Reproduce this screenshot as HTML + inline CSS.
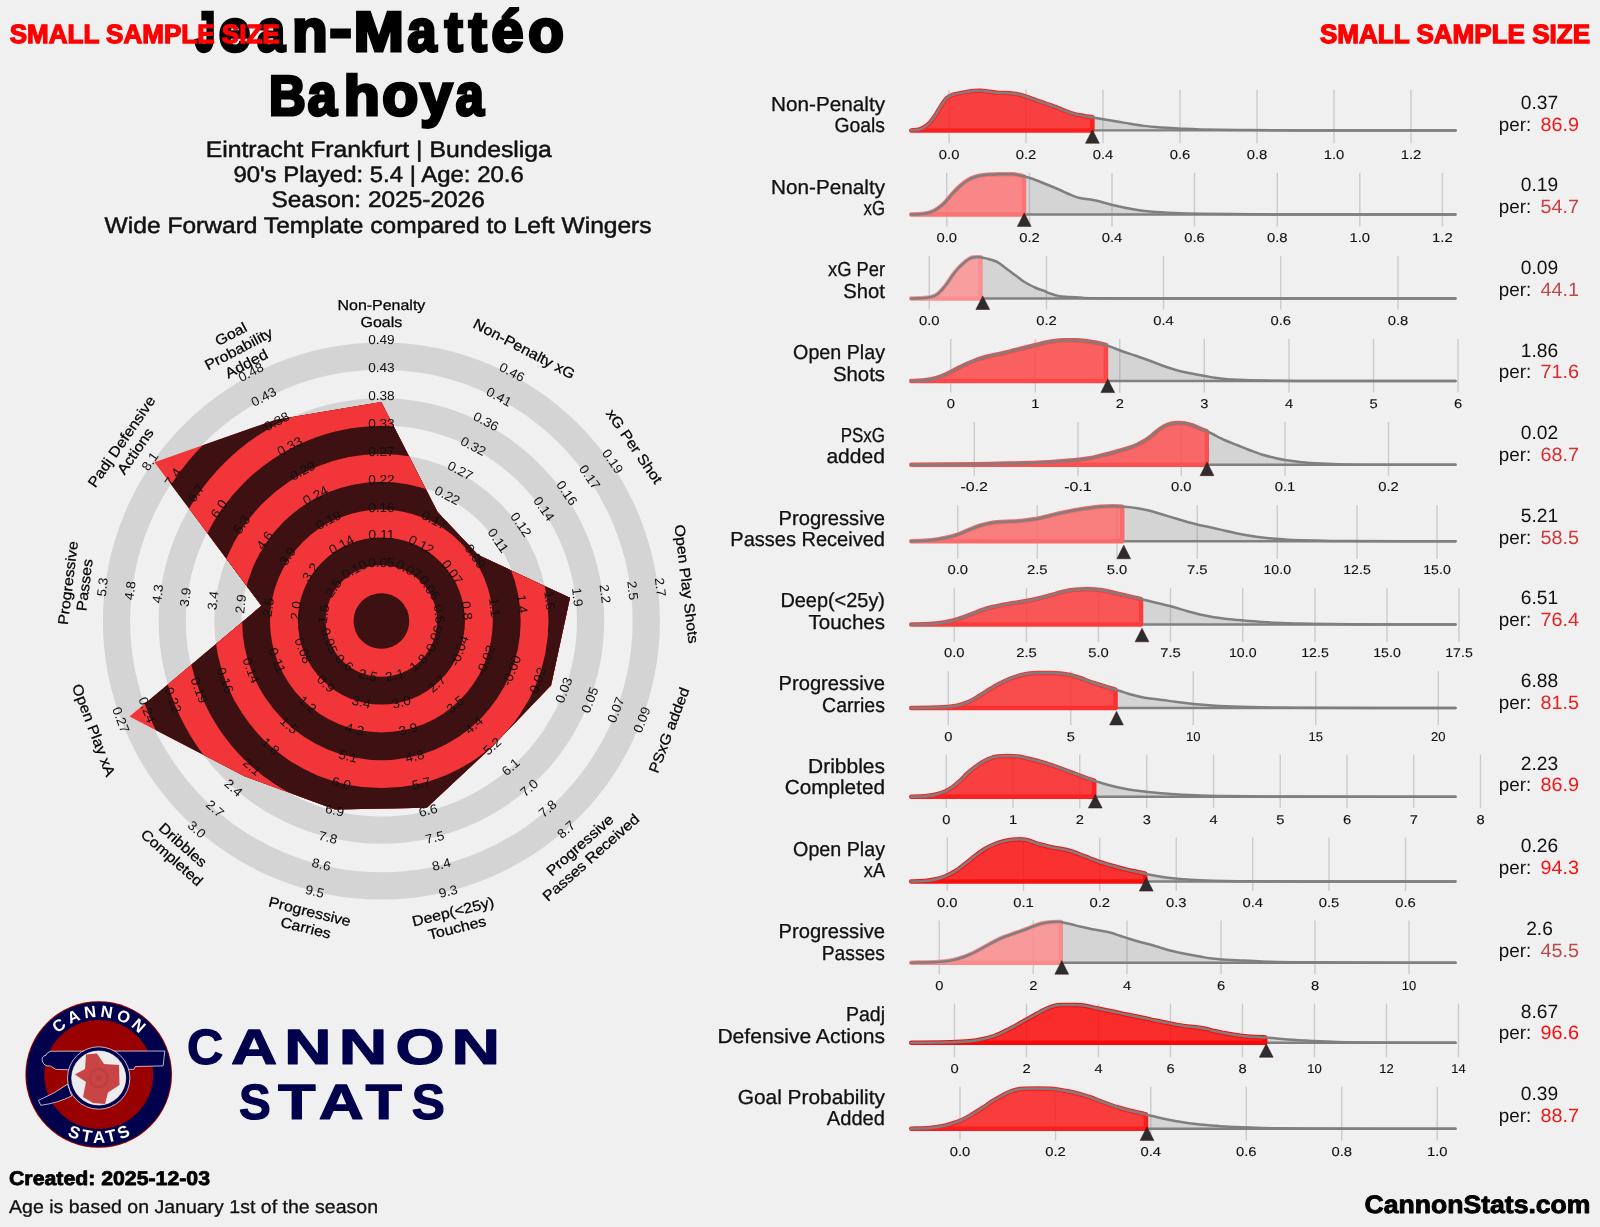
<!DOCTYPE html>
<html><head><meta charset="utf-8"><title>Radar</title><style>html,body{margin:0;padding:0;background:#f0f0f0}svg{display:block;will-change:transform}</style></head><body>
<svg width="1600" height="1227" viewBox="0 0 1600 1227" font-family="Liberation Sans, sans-serif" text-rendering="geometricPrecision">
<rect width="1600" height="1227" fill="#f0f0f0"/>
<text transform="translate(194.80,51.40) scale(0.659,1.0)" font-size="56" font-weight="bold" fill="#000" stroke="#000" stroke-width="3.2" stroke-linejoin="miter" stroke-miterlimit="2.5">J</text>
<text transform="translate(218.73,51.40) scale(1.014,1.05)" font-size="56" font-weight="bold" fill="#000" stroke="#000" stroke-width="3.2" stroke-linejoin="miter" stroke-miterlimit="2.5">e</text>
<text transform="translate(256.99,51.40) scale(0.899,1.05)" font-size="56" font-weight="bold" fill="#000" stroke="#000" stroke-width="3.2" stroke-linejoin="miter" stroke-miterlimit="2.5">a</text>
<text transform="translate(292.25,51.40) scale(1.031,1.05)" font-size="56" font-weight="bold" fill="#000" stroke="#000" stroke-width="3.2" stroke-linejoin="miter" stroke-miterlimit="2.5">n</text>
<text transform="translate(329.54,48.40) scale(1.188,1.0)" font-size="56" font-weight="bold" fill="#000" stroke="#000" stroke-width="3.2" stroke-linejoin="miter" stroke-miterlimit="2.5">-</text>
<text transform="translate(353.75,51.40) scale(1.073,1.0)" font-size="56" font-weight="bold" fill="#000" stroke="#000" stroke-width="3.2" stroke-linejoin="miter" stroke-miterlimit="2.5">M</text>
<text transform="translate(407.54,51.40) scale(0.929,1.05)" font-size="56" font-weight="bold" fill="#000" stroke="#000" stroke-width="3.2" stroke-linejoin="miter" stroke-miterlimit="2.5">a</text>
<text transform="translate(444.83,51.40) scale(0.958,1.0)" font-size="56" font-weight="bold" fill="#000" stroke="#000" stroke-width="3.2" stroke-linejoin="miter" stroke-miterlimit="2.5">t</text>
<text transform="translate(468.83,51.40) scale(0.964,1.0)" font-size="56" font-weight="bold" fill="#000" stroke="#000" stroke-width="3.2" stroke-linejoin="miter" stroke-miterlimit="2.5">t</text>
<text transform="translate(491.60,51.40) scale(1.025,1.03)" font-size="56" font-weight="bold" fill="#000" stroke="#000" stroke-width="3.2" stroke-linejoin="miter" stroke-miterlimit="2.5">é</text>
<text transform="translate(528.27,51.40) scale(1.040,1.05)" font-size="56" font-weight="bold" fill="#000" stroke="#000" stroke-width="3.2" stroke-linejoin="miter" stroke-miterlimit="2.5">o</text>
<text transform="translate(268.97,115.20) scale(0.907,1.0)" font-size="56" font-weight="bold" fill="#000" stroke="#000" stroke-width="3.2" stroke-linejoin="miter" stroke-miterlimit="2.5">B</text>
<text transform="translate(307.73,115.20) scale(0.934,1.05)" font-size="56" font-weight="bold" fill="#000" stroke="#000" stroke-width="3.2" stroke-linejoin="miter" stroke-miterlimit="2.5">a</text>
<text transform="translate(343.72,115.20) scale(1.053,1.0)" font-size="56" font-weight="bold" fill="#000" stroke="#000" stroke-width="3.2" stroke-linejoin="miter" stroke-miterlimit="2.5">h</text>
<text transform="translate(382.25,115.20) scale(1.050,1.05)" font-size="56" font-weight="bold" fill="#000" stroke="#000" stroke-width="3.2" stroke-linejoin="miter" stroke-miterlimit="2.5">o</text>
<text transform="translate(420.17,115.20) scale(1.030,1.05)" font-size="56" font-weight="bold" fill="#000" stroke="#000" stroke-width="3.2" stroke-linejoin="miter" stroke-miterlimit="2.5">y</text>
<text transform="translate(455.84,115.20) scale(0.899,1.05)" font-size="56" font-weight="bold" fill="#000" stroke="#000" stroke-width="3.2" stroke-linejoin="miter" stroke-miterlimit="2.5">a</text>
<text x="378.80" y="156.60" font-size="22.6" text-anchor="middle" font-weight="normal" fill="#111" textLength="346.2" lengthAdjust="spacingAndGlyphs" stroke="#111" stroke-width="0.5">Eintracht Frankfurt | Bundesliga</text>
<text x="378.60" y="181.90" font-size="22.6" text-anchor="middle" font-weight="normal" fill="#111" textLength="290.4" lengthAdjust="spacingAndGlyphs" stroke="#111" stroke-width="0.5">90's Played: 5.4 | Age: 20.6</text>
<text x="378.10" y="206.90" font-size="22.6" text-anchor="middle" font-weight="normal" fill="#111" textLength="213.3" lengthAdjust="spacingAndGlyphs" stroke="#111" stroke-width="0.5">Season: 2025-2026</text>
<text x="378.10" y="232.80" font-size="22.6" text-anchor="middle" font-weight="normal" fill="#111" textLength="547.0" lengthAdjust="spacingAndGlyphs" stroke="#111" stroke-width="0.5">Wide Forward Template compared to Left Wingers</text>
<text x="9.70" y="43.40" font-size="26.4" text-anchor="start" font-weight="bold" fill="#ff0000" textLength="270.0" lengthAdjust="spacingAndGlyphs" stroke="#ff0000" stroke-width="1.3" stroke-linejoin="miter">SMALL SAMPLE SIZE</text>
<text x="1590.00" y="43.40" font-size="26.4" text-anchor="end" font-weight="bold" fill="#ff0000" textLength="270.0" lengthAdjust="spacingAndGlyphs" stroke="#ff0000" stroke-width="1.3" stroke-linejoin="miter">SMALL SAMPLE SIZE</text>
<defs><clipPath id="pc"><polygon points="381.3,402.0 437.5,512.0 478.2,555.0 570.0,597.8 551.1,685.2 492.4,746.4 426.8,807.8 335.0,809.4 244.4,776.2 129.5,716.4 261.5,605.8 154.5,462.2 275.7,419.7"/></clipPath></defs>
<circle cx="381.4" cy="621.0" r="278.50" fill="#d4d4d4"/>
<circle cx="381.4" cy="621.0" r="251.25" fill="#f0f0f0"/>
<circle cx="381.4" cy="621.0" r="222.80" fill="#d4d4d4"/>
<circle cx="381.4" cy="621.0" r="195.55" fill="#f0f0f0"/>
<circle cx="381.4" cy="621.0" r="167.10" fill="#d4d4d4"/>
<circle cx="381.4" cy="621.0" r="139.85" fill="#f0f0f0"/>
<circle cx="381.4" cy="621.0" r="111.40" fill="#d4d4d4"/>
<circle cx="381.4" cy="621.0" r="84.15" fill="#f0f0f0"/>
<circle cx="381.4" cy="621.0" r="55.70" fill="#d4d4d4"/>
<circle cx="381.4" cy="621.0" r="28.45" fill="#f0f0f0"/>
<g clip-path="url(#pc)">
<circle cx="381.4" cy="621.0" r="278.50" fill="#f23538"/>
<circle cx="381.4" cy="621.0" r="250.65" fill="#3d1011"/>
<circle cx="381.4" cy="621.0" r="222.80" fill="#f23538"/>
<circle cx="381.4" cy="621.0" r="194.95" fill="#3d1011"/>
<circle cx="381.4" cy="621.0" r="167.10" fill="#f23538"/>
<circle cx="381.4" cy="621.0" r="139.25" fill="#3d1011"/>
<circle cx="381.4" cy="621.0" r="111.40" fill="#f23538"/>
<circle cx="381.4" cy="621.0" r="83.55" fill="#3d1011"/>
<circle cx="381.4" cy="621.0" r="55.70" fill="#f23538"/>
<circle cx="381.4" cy="621.0" r="27.85" fill="#3d1011"/>
</g>
<g transform="translate(381.40,564.00) rotate(0.00)">
<text x="0.00" y="3.20" font-size="13" text-anchor="middle" font-weight="normal" fill="#111" textLength="26.5" lengthAdjust="spacingAndGlyphs" >0.05</text>
</g>
<g transform="translate(381.40,536.15) rotate(0.00)">
<text x="0.00" y="3.20" font-size="13" text-anchor="middle" font-weight="normal" fill="#111" textLength="26.5" lengthAdjust="spacingAndGlyphs" >0.11</text>
</g>
<g transform="translate(381.40,508.30) rotate(0.00)">
<text x="0.00" y="3.20" font-size="13" text-anchor="middle" font-weight="normal" fill="#111" textLength="26.5" lengthAdjust="spacingAndGlyphs" >0.16</text>
</g>
<g transform="translate(381.40,480.45) rotate(0.00)">
<text x="0.00" y="3.20" font-size="13" text-anchor="middle" font-weight="normal" fill="#111" textLength="26.5" lengthAdjust="spacingAndGlyphs" >0.22</text>
</g>
<g transform="translate(381.40,452.60) rotate(0.00)">
<text x="0.00" y="3.20" font-size="13" text-anchor="middle" font-weight="normal" fill="#111" textLength="26.5" lengthAdjust="spacingAndGlyphs" >0.27</text>
</g>
<g transform="translate(381.40,424.75) rotate(0.00)">
<text x="0.00" y="3.20" font-size="13" text-anchor="middle" font-weight="normal" fill="#111" textLength="26.5" lengthAdjust="spacingAndGlyphs" >0.33</text>
</g>
<g transform="translate(381.40,396.90) rotate(0.00)">
<text x="0.00" y="3.20" font-size="13" text-anchor="middle" font-weight="normal" fill="#111" textLength="26.5" lengthAdjust="spacingAndGlyphs" >0.38</text>
</g>
<g transform="translate(381.40,369.05) rotate(0.00)">
<text x="0.00" y="3.20" font-size="13" text-anchor="middle" font-weight="normal" fill="#111" textLength="26.5" lengthAdjust="spacingAndGlyphs" >0.43</text>
</g>
<g transform="translate(381.40,341.20) rotate(0.00)">
<text x="0.00" y="3.20" font-size="13" text-anchor="middle" font-weight="normal" fill="#111" textLength="26.5" lengthAdjust="spacingAndGlyphs" >0.49</text>
</g>
<g transform="translate(407.89,570.53) rotate(27.69)">
<text x="0.00" y="3.20" font-size="13" text-anchor="middle" font-weight="normal" fill="#111" textLength="26.5" lengthAdjust="spacingAndGlyphs" >0.07</text>
</g>
<g transform="translate(420.83,545.87) rotate(27.69)">
<text x="0.00" y="3.20" font-size="13" text-anchor="middle" font-weight="normal" fill="#111" textLength="26.5" lengthAdjust="spacingAndGlyphs" >0.12</text>
</g>
<g transform="translate(433.77,521.21) rotate(27.69)">
<text x="0.00" y="3.20" font-size="13" text-anchor="middle" font-weight="normal" fill="#111" textLength="26.5" lengthAdjust="spacingAndGlyphs" >0.17</text>
</g>
<g transform="translate(446.72,496.55) rotate(27.69)">
<text x="0.00" y="3.20" font-size="13" text-anchor="middle" font-weight="normal" fill="#111" textLength="26.5" lengthAdjust="spacingAndGlyphs" >0.22</text>
</g>
<g transform="translate(459.66,471.89) rotate(27.69)">
<text x="0.00" y="3.20" font-size="13" text-anchor="middle" font-weight="normal" fill="#111" textLength="26.5" lengthAdjust="spacingAndGlyphs" >0.27</text>
</g>
<g transform="translate(472.60,447.23) rotate(27.69)">
<text x="0.00" y="3.20" font-size="13" text-anchor="middle" font-weight="normal" fill="#111" textLength="26.5" lengthAdjust="spacingAndGlyphs" >0.32</text>
</g>
<g transform="translate(485.54,422.57) rotate(27.69)">
<text x="0.00" y="3.20" font-size="13" text-anchor="middle" font-weight="normal" fill="#111" textLength="26.5" lengthAdjust="spacingAndGlyphs" >0.36</text>
</g>
<g transform="translate(498.49,397.91) rotate(27.69)">
<text x="0.00" y="3.20" font-size="13" text-anchor="middle" font-weight="normal" fill="#111" textLength="26.5" lengthAdjust="spacingAndGlyphs" >0.41</text>
</g>
<g transform="translate(511.43,373.25) rotate(27.69)">
<text x="0.00" y="3.20" font-size="13" text-anchor="middle" font-weight="normal" fill="#111" textLength="26.5" lengthAdjust="spacingAndGlyphs" >0.46</text>
</g>
<g transform="translate(428.31,588.62) rotate(55.38)">
<text x="0.00" y="3.20" font-size="13" text-anchor="middle" font-weight="normal" fill="#111" textLength="26.5" lengthAdjust="spacingAndGlyphs" >0.06</text>
</g>
<g transform="translate(451.23,572.80) rotate(55.38)">
<text x="0.00" y="3.20" font-size="13" text-anchor="middle" font-weight="normal" fill="#111" textLength="26.5" lengthAdjust="spacingAndGlyphs" >0.07</text>
</g>
<g transform="translate(474.15,556.98) rotate(55.38)">
<text x="0.00" y="3.20" font-size="13" text-anchor="middle" font-weight="normal" fill="#111" textLength="26.5" lengthAdjust="spacingAndGlyphs" >0.09</text>
</g>
<g transform="translate(497.07,541.16) rotate(55.38)">
<text x="0.00" y="3.20" font-size="13" text-anchor="middle" font-weight="normal" fill="#111" textLength="26.5" lengthAdjust="spacingAndGlyphs" >0.11</text>
</g>
<g transform="translate(519.99,525.34) rotate(55.38)">
<text x="0.00" y="3.20" font-size="13" text-anchor="middle" font-weight="normal" fill="#111" textLength="26.5" lengthAdjust="spacingAndGlyphs" >0.12</text>
</g>
<g transform="translate(542.91,509.52) rotate(55.38)">
<text x="0.00" y="3.20" font-size="13" text-anchor="middle" font-weight="normal" fill="#111" textLength="26.5" lengthAdjust="spacingAndGlyphs" >0.14</text>
</g>
<g transform="translate(565.83,493.70) rotate(55.38)">
<text x="0.00" y="3.20" font-size="13" text-anchor="middle" font-weight="normal" fill="#111" textLength="26.5" lengthAdjust="spacingAndGlyphs" >0.16</text>
</g>
<g transform="translate(588.75,477.88) rotate(55.38)">
<text x="0.00" y="3.20" font-size="13" text-anchor="middle" font-weight="normal" fill="#111" textLength="26.5" lengthAdjust="spacingAndGlyphs" >0.17</text>
</g>
<g transform="translate(611.67,462.06) rotate(55.38)">
<text x="0.00" y="3.20" font-size="13" text-anchor="middle" font-weight="normal" fill="#111" textLength="26.5" lengthAdjust="spacingAndGlyphs" >0.19</text>
</g>
<g transform="translate(437.98,614.13) rotate(83.08)">
<text x="0.00" y="3.20" font-size="13" text-anchor="middle" font-weight="normal" fill="#111" textLength="19.0" lengthAdjust="spacingAndGlyphs" >0.5</text>
</g>
<g transform="translate(465.63,610.77) rotate(83.08)">
<text x="0.00" y="3.20" font-size="13" text-anchor="middle" font-weight="normal" fill="#111" textLength="19.0" lengthAdjust="spacingAndGlyphs" >0.8</text>
</g>
<g transform="translate(493.28,607.42) rotate(83.08)">
<text x="0.00" y="3.20" font-size="13" text-anchor="middle" font-weight="normal" fill="#111" textLength="19.0" lengthAdjust="spacingAndGlyphs" >1.1</text>
</g>
<g transform="translate(520.93,604.06) rotate(83.08)">
<text x="0.00" y="3.20" font-size="13" text-anchor="middle" font-weight="normal" fill="#111" textLength="19.0" lengthAdjust="spacingAndGlyphs" >1.4</text>
</g>
<g transform="translate(548.57,600.70) rotate(83.08)">
<text x="0.00" y="3.20" font-size="13" text-anchor="middle" font-weight="normal" fill="#111" textLength="19.0" lengthAdjust="spacingAndGlyphs" >1.6</text>
</g>
<g transform="translate(576.22,597.34) rotate(83.08)">
<text x="0.00" y="3.20" font-size="13" text-anchor="middle" font-weight="normal" fill="#111" textLength="19.0" lengthAdjust="spacingAndGlyphs" >1.9</text>
</g>
<g transform="translate(603.87,593.99) rotate(83.08)">
<text x="0.00" y="3.20" font-size="13" text-anchor="middle" font-weight="normal" fill="#111" textLength="19.0" lengthAdjust="spacingAndGlyphs" >2.2</text>
</g>
<g transform="translate(631.51,590.63) rotate(83.08)">
<text x="0.00" y="3.20" font-size="13" text-anchor="middle" font-weight="normal" fill="#111" textLength="19.0" lengthAdjust="spacingAndGlyphs" >2.5</text>
</g>
<g transform="translate(659.16,587.27) rotate(83.08)">
<text x="0.00" y="3.20" font-size="13" text-anchor="middle" font-weight="normal" fill="#111" textLength="19.0" lengthAdjust="spacingAndGlyphs" >2.7</text>
</g>
<g transform="translate(434.70,641.21) rotate(-69.23)">
<text x="0.00" y="3.20" font-size="13" text-anchor="middle" font-weight="normal" fill="#111" textLength="31.5" lengthAdjust="spacingAndGlyphs" >-0.06</text>
</g>
<g transform="translate(460.74,651.09) rotate(-69.23)">
<text x="0.00" y="3.20" font-size="13" text-anchor="middle" font-weight="normal" fill="#111" textLength="31.5" lengthAdjust="spacingAndGlyphs" >-0.04</text>
</g>
<g transform="translate(486.78,660.96) rotate(-69.23)">
<text x="0.00" y="3.20" font-size="13" text-anchor="middle" font-weight="normal" fill="#111" textLength="31.5" lengthAdjust="spacingAndGlyphs" >-0.02</text>
</g>
<g transform="translate(512.82,670.84) rotate(-69.23)">
<text x="0.00" y="3.20" font-size="13" text-anchor="middle" font-weight="normal" fill="#111" textLength="31.5" lengthAdjust="spacingAndGlyphs" >-0.00</text>
</g>
<g transform="translate(538.86,680.72) rotate(-69.23)">
<text x="0.00" y="3.20" font-size="13" text-anchor="middle" font-weight="normal" fill="#111" textLength="26.5" lengthAdjust="spacingAndGlyphs" >0.02</text>
</g>
<g transform="translate(564.90,690.59) rotate(-69.23)">
<text x="0.00" y="3.20" font-size="13" text-anchor="middle" font-weight="normal" fill="#111" textLength="26.5" lengthAdjust="spacingAndGlyphs" >0.03</text>
</g>
<g transform="translate(590.94,700.47) rotate(-69.23)">
<text x="0.00" y="3.20" font-size="13" text-anchor="middle" font-weight="normal" fill="#111" textLength="26.5" lengthAdjust="spacingAndGlyphs" >0.05</text>
</g>
<g transform="translate(616.98,710.34) rotate(-69.23)">
<text x="0.00" y="3.20" font-size="13" text-anchor="middle" font-weight="normal" fill="#111" textLength="26.5" lengthAdjust="spacingAndGlyphs" >0.07</text>
</g>
<g transform="translate(643.02,720.22) rotate(-69.23)">
<text x="0.00" y="3.20" font-size="13" text-anchor="middle" font-weight="normal" fill="#111" textLength="26.5" lengthAdjust="spacingAndGlyphs" >0.09</text>
</g>
<g transform="translate(419.20,663.67) rotate(-41.54)">
<text x="0.00" y="3.20" font-size="13" text-anchor="middle" font-weight="normal" fill="#111" textLength="19.0" lengthAdjust="spacingAndGlyphs" >1.8</text>
</g>
<g transform="translate(437.67,684.51) rotate(-41.54)">
<text x="0.00" y="3.20" font-size="13" text-anchor="middle" font-weight="normal" fill="#111" textLength="19.0" lengthAdjust="spacingAndGlyphs" >2.7</text>
</g>
<g transform="translate(456.13,705.36) rotate(-41.54)">
<text x="0.00" y="3.20" font-size="13" text-anchor="middle" font-weight="normal" fill="#111" textLength="19.0" lengthAdjust="spacingAndGlyphs" >3.5</text>
</g>
<g transform="translate(474.60,726.20) rotate(-41.54)">
<text x="0.00" y="3.20" font-size="13" text-anchor="middle" font-weight="normal" fill="#111" textLength="19.0" lengthAdjust="spacingAndGlyphs" >4.4</text>
</g>
<g transform="translate(493.07,747.05) rotate(-41.54)">
<text x="0.00" y="3.20" font-size="13" text-anchor="middle" font-weight="normal" fill="#111" textLength="19.0" lengthAdjust="spacingAndGlyphs" >5.2</text>
</g>
<g transform="translate(511.54,767.90) rotate(-41.54)">
<text x="0.00" y="3.20" font-size="13" text-anchor="middle" font-weight="normal" fill="#111" textLength="19.0" lengthAdjust="spacingAndGlyphs" >6.1</text>
</g>
<g transform="translate(530.01,788.74) rotate(-41.54)">
<text x="0.00" y="3.20" font-size="13" text-anchor="middle" font-weight="normal" fill="#111" textLength="19.0" lengthAdjust="spacingAndGlyphs" >7.0</text>
</g>
<g transform="translate(548.47,809.59) rotate(-41.54)">
<text x="0.00" y="3.20" font-size="13" text-anchor="middle" font-weight="normal" fill="#111" textLength="19.0" lengthAdjust="spacingAndGlyphs" >7.8</text>
</g>
<g transform="translate(566.94,830.43) rotate(-41.54)">
<text x="0.00" y="3.20" font-size="13" text-anchor="middle" font-weight="normal" fill="#111" textLength="19.0" lengthAdjust="spacingAndGlyphs" >8.7</text>
</g>
<g transform="translate(395.04,676.34) rotate(-13.85)">
<text x="0.00" y="3.20" font-size="13" text-anchor="middle" font-weight="normal" fill="#111" textLength="19.0" lengthAdjust="spacingAndGlyphs" >2.1</text>
</g>
<g transform="translate(401.71,703.38) rotate(-13.85)">
<text x="0.00" y="3.20" font-size="13" text-anchor="middle" font-weight="normal" fill="#111" textLength="19.0" lengthAdjust="spacingAndGlyphs" >3.0</text>
</g>
<g transform="translate(408.37,730.43) rotate(-13.85)">
<text x="0.00" y="3.20" font-size="13" text-anchor="middle" font-weight="normal" fill="#111" textLength="19.0" lengthAdjust="spacingAndGlyphs" >3.9</text>
</g>
<g transform="translate(415.04,757.47) rotate(-13.85)">
<text x="0.00" y="3.20" font-size="13" text-anchor="middle" font-weight="normal" fill="#111" textLength="19.0" lengthAdjust="spacingAndGlyphs" >4.8</text>
</g>
<g transform="translate(421.70,784.51) rotate(-13.85)">
<text x="0.00" y="3.20" font-size="13" text-anchor="middle" font-weight="normal" fill="#111" textLength="19.0" lengthAdjust="spacingAndGlyphs" >5.7</text>
</g>
<g transform="translate(428.37,811.55) rotate(-13.85)">
<text x="0.00" y="3.20" font-size="13" text-anchor="middle" font-weight="normal" fill="#111" textLength="19.0" lengthAdjust="spacingAndGlyphs" >6.6</text>
</g>
<g transform="translate(435.03,838.59) rotate(-13.85)">
<text x="0.00" y="3.20" font-size="13" text-anchor="middle" font-weight="normal" fill="#111" textLength="19.0" lengthAdjust="spacingAndGlyphs" >7.5</text>
</g>
<g transform="translate(441.70,865.63) rotate(-13.85)">
<text x="0.00" y="3.20" font-size="13" text-anchor="middle" font-weight="normal" fill="#111" textLength="19.0" lengthAdjust="spacingAndGlyphs" >8.4</text>
</g>
<g transform="translate(448.36,892.67) rotate(-13.85)">
<text x="0.00" y="3.20" font-size="13" text-anchor="middle" font-weight="normal" fill="#111" textLength="19.0" lengthAdjust="spacingAndGlyphs" >9.3</text>
</g>
<g transform="translate(367.76,676.34) rotate(13.85)">
<text x="0.00" y="3.20" font-size="13" text-anchor="middle" font-weight="normal" fill="#111" textLength="19.0" lengthAdjust="spacingAndGlyphs" >2.5</text>
</g>
<g transform="translate(361.09,703.38) rotate(13.85)">
<text x="0.00" y="3.20" font-size="13" text-anchor="middle" font-weight="normal" fill="#111" textLength="19.0" lengthAdjust="spacingAndGlyphs" >3.4</text>
</g>
<g transform="translate(354.43,730.43) rotate(13.85)">
<text x="0.00" y="3.20" font-size="13" text-anchor="middle" font-weight="normal" fill="#111" textLength="19.0" lengthAdjust="spacingAndGlyphs" >4.3</text>
</g>
<g transform="translate(347.76,757.47) rotate(13.85)">
<text x="0.00" y="3.20" font-size="13" text-anchor="middle" font-weight="normal" fill="#111" textLength="19.0" lengthAdjust="spacingAndGlyphs" >5.1</text>
</g>
<g transform="translate(341.10,784.51) rotate(13.85)">
<text x="0.00" y="3.20" font-size="13" text-anchor="middle" font-weight="normal" fill="#111" textLength="19.0" lengthAdjust="spacingAndGlyphs" >6.0</text>
</g>
<g transform="translate(334.43,811.55) rotate(13.85)">
<text x="0.00" y="3.20" font-size="13" text-anchor="middle" font-weight="normal" fill="#111" textLength="19.0" lengthAdjust="spacingAndGlyphs" >6.9</text>
</g>
<g transform="translate(327.77,838.59) rotate(13.85)">
<text x="0.00" y="3.20" font-size="13" text-anchor="middle" font-weight="normal" fill="#111" textLength="19.0" lengthAdjust="spacingAndGlyphs" >7.8</text>
</g>
<g transform="translate(321.10,865.63) rotate(13.85)">
<text x="0.00" y="3.20" font-size="13" text-anchor="middle" font-weight="normal" fill="#111" textLength="19.0" lengthAdjust="spacingAndGlyphs" >8.6</text>
</g>
<g transform="translate(314.44,892.67) rotate(13.85)">
<text x="0.00" y="3.20" font-size="13" text-anchor="middle" font-weight="normal" fill="#111" textLength="19.0" lengthAdjust="spacingAndGlyphs" >9.5</text>
</g>
<g transform="translate(343.60,663.67) rotate(41.54)">
<text x="0.00" y="3.20" font-size="13" text-anchor="middle" font-weight="normal" fill="#111" textLength="19.0" lengthAdjust="spacingAndGlyphs" >0.6</text>
</g>
<g transform="translate(325.13,684.51) rotate(41.54)">
<text x="0.00" y="3.20" font-size="13" text-anchor="middle" font-weight="normal" fill="#111" textLength="19.0" lengthAdjust="spacingAndGlyphs" >0.9</text>
</g>
<g transform="translate(306.67,705.36) rotate(41.54)">
<text x="0.00" y="3.20" font-size="13" text-anchor="middle" font-weight="normal" fill="#111" textLength="19.0" lengthAdjust="spacingAndGlyphs" >1.2</text>
</g>
<g transform="translate(288.20,726.20) rotate(41.54)">
<text x="0.00" y="3.20" font-size="13" text-anchor="middle" font-weight="normal" fill="#111" textLength="19.0" lengthAdjust="spacingAndGlyphs" >1.5</text>
</g>
<g transform="translate(269.73,747.05) rotate(41.54)">
<text x="0.00" y="3.20" font-size="13" text-anchor="middle" font-weight="normal" fill="#111" textLength="19.0" lengthAdjust="spacingAndGlyphs" >1.8</text>
</g>
<g transform="translate(251.26,767.90) rotate(41.54)">
<text x="0.00" y="3.20" font-size="13" text-anchor="middle" font-weight="normal" fill="#111" textLength="19.0" lengthAdjust="spacingAndGlyphs" >2.1</text>
</g>
<g transform="translate(232.79,788.74) rotate(41.54)">
<text x="0.00" y="3.20" font-size="13" text-anchor="middle" font-weight="normal" fill="#111" textLength="19.0" lengthAdjust="spacingAndGlyphs" >2.4</text>
</g>
<g transform="translate(214.33,809.59) rotate(41.54)">
<text x="0.00" y="3.20" font-size="13" text-anchor="middle" font-weight="normal" fill="#111" textLength="19.0" lengthAdjust="spacingAndGlyphs" >2.7</text>
</g>
<g transform="translate(195.86,830.43) rotate(41.54)">
<text x="0.00" y="3.20" font-size="13" text-anchor="middle" font-weight="normal" fill="#111" textLength="19.0" lengthAdjust="spacingAndGlyphs" >3.0</text>
</g>
<g transform="translate(328.10,641.21) rotate(69.23)">
<text x="0.00" y="3.20" font-size="13" text-anchor="middle" font-weight="normal" fill="#111" textLength="26.5" lengthAdjust="spacingAndGlyphs" >0.05</text>
</g>
<g transform="translate(302.06,651.09) rotate(69.23)">
<text x="0.00" y="3.20" font-size="13" text-anchor="middle" font-weight="normal" fill="#111" textLength="26.5" lengthAdjust="spacingAndGlyphs" >0.08</text>
</g>
<g transform="translate(276.02,660.96) rotate(69.23)">
<text x="0.00" y="3.20" font-size="13" text-anchor="middle" font-weight="normal" fill="#111" textLength="26.5" lengthAdjust="spacingAndGlyphs" >0.11</text>
</g>
<g transform="translate(249.98,670.84) rotate(69.23)">
<text x="0.00" y="3.20" font-size="13" text-anchor="middle" font-weight="normal" fill="#111" textLength="26.5" lengthAdjust="spacingAndGlyphs" >0.14</text>
</g>
<g transform="translate(223.94,680.72) rotate(69.23)">
<text x="0.00" y="3.20" font-size="13" text-anchor="middle" font-weight="normal" fill="#111" textLength="26.5" lengthAdjust="spacingAndGlyphs" >0.16</text>
</g>
<g transform="translate(197.90,690.59) rotate(69.23)">
<text x="0.00" y="3.20" font-size="13" text-anchor="middle" font-weight="normal" fill="#111" textLength="26.5" lengthAdjust="spacingAndGlyphs" >0.19</text>
</g>
<g transform="translate(171.86,700.47) rotate(69.23)">
<text x="0.00" y="3.20" font-size="13" text-anchor="middle" font-weight="normal" fill="#111" textLength="26.5" lengthAdjust="spacingAndGlyphs" >0.22</text>
</g>
<g transform="translate(145.82,710.34) rotate(69.23)">
<text x="0.00" y="3.20" font-size="13" text-anchor="middle" font-weight="normal" fill="#111" textLength="26.5" lengthAdjust="spacingAndGlyphs" >0.24</text>
</g>
<g transform="translate(119.78,720.22) rotate(69.23)">
<text x="0.00" y="3.20" font-size="13" text-anchor="middle" font-weight="normal" fill="#111" textLength="26.5" lengthAdjust="spacingAndGlyphs" >0.27</text>
</g>
<g transform="translate(324.82,614.13) rotate(-83.08)">
<text x="0.00" y="3.20" font-size="13" text-anchor="middle" font-weight="normal" fill="#111" textLength="19.0" lengthAdjust="spacingAndGlyphs" >1.5</text>
</g>
<g transform="translate(297.17,610.77) rotate(-83.08)">
<text x="0.00" y="3.20" font-size="13" text-anchor="middle" font-weight="normal" fill="#111" textLength="19.0" lengthAdjust="spacingAndGlyphs" >2.0</text>
</g>
<g transform="translate(269.52,607.42) rotate(-83.08)">
<text x="0.00" y="3.20" font-size="13" text-anchor="middle" font-weight="normal" fill="#111" textLength="19.0" lengthAdjust="spacingAndGlyphs" >2.5</text>
</g>
<g transform="translate(241.87,604.06) rotate(-83.08)">
<text x="0.00" y="3.20" font-size="13" text-anchor="middle" font-weight="normal" fill="#111" textLength="19.0" lengthAdjust="spacingAndGlyphs" >2.9</text>
</g>
<g transform="translate(214.23,600.70) rotate(-83.08)">
<text x="0.00" y="3.20" font-size="13" text-anchor="middle" font-weight="normal" fill="#111" textLength="19.0" lengthAdjust="spacingAndGlyphs" >3.4</text>
</g>
<g transform="translate(186.58,597.34) rotate(-83.08)">
<text x="0.00" y="3.20" font-size="13" text-anchor="middle" font-weight="normal" fill="#111" textLength="19.0" lengthAdjust="spacingAndGlyphs" >3.9</text>
</g>
<g transform="translate(158.93,593.99) rotate(-83.08)">
<text x="0.00" y="3.20" font-size="13" text-anchor="middle" font-weight="normal" fill="#111" textLength="19.0" lengthAdjust="spacingAndGlyphs" >4.3</text>
</g>
<g transform="translate(131.29,590.63) rotate(-83.08)">
<text x="0.00" y="3.20" font-size="13" text-anchor="middle" font-weight="normal" fill="#111" textLength="19.0" lengthAdjust="spacingAndGlyphs" >4.8</text>
</g>
<g transform="translate(103.64,587.27) rotate(-83.08)">
<text x="0.00" y="3.20" font-size="13" text-anchor="middle" font-weight="normal" fill="#111" textLength="19.0" lengthAdjust="spacingAndGlyphs" >5.3</text>
</g>
<g transform="translate(334.49,588.62) rotate(-55.38)">
<text x="0.00" y="3.20" font-size="13" text-anchor="middle" font-weight="normal" fill="#111" textLength="19.0" lengthAdjust="spacingAndGlyphs" >2.5</text>
</g>
<g transform="translate(311.57,572.80) rotate(-55.38)">
<text x="0.00" y="3.20" font-size="13" text-anchor="middle" font-weight="normal" fill="#111" textLength="19.0" lengthAdjust="spacingAndGlyphs" >3.2</text>
</g>
<g transform="translate(288.65,556.98) rotate(-55.38)">
<text x="0.00" y="3.20" font-size="13" text-anchor="middle" font-weight="normal" fill="#111" textLength="19.0" lengthAdjust="spacingAndGlyphs" >3.9</text>
</g>
<g transform="translate(265.73,541.16) rotate(-55.38)">
<text x="0.00" y="3.20" font-size="13" text-anchor="middle" font-weight="normal" fill="#111" textLength="19.0" lengthAdjust="spacingAndGlyphs" >4.6</text>
</g>
<g transform="translate(242.81,525.34) rotate(-55.38)">
<text x="0.00" y="3.20" font-size="13" text-anchor="middle" font-weight="normal" fill="#111" textLength="19.0" lengthAdjust="spacingAndGlyphs" >5.3</text>
</g>
<g transform="translate(219.89,509.52) rotate(-55.38)">
<text x="0.00" y="3.20" font-size="13" text-anchor="middle" font-weight="normal" fill="#111" textLength="19.0" lengthAdjust="spacingAndGlyphs" >6.0</text>
</g>
<g transform="translate(196.97,493.70) rotate(-55.38)">
<text x="0.00" y="3.20" font-size="13" text-anchor="middle" font-weight="normal" fill="#111" textLength="19.0" lengthAdjust="spacingAndGlyphs" >6.7</text>
</g>
<g transform="translate(174.05,477.88) rotate(-55.38)">
<text x="0.00" y="3.20" font-size="13" text-anchor="middle" font-weight="normal" fill="#111" textLength="19.0" lengthAdjust="spacingAndGlyphs" >7.4</text>
</g>
<g transform="translate(151.13,462.06) rotate(-55.38)">
<text x="0.00" y="3.20" font-size="13" text-anchor="middle" font-weight="normal" fill="#111" textLength="19.0" lengthAdjust="spacingAndGlyphs" >8.1</text>
</g>
<g transform="translate(354.91,570.53) rotate(-27.69)">
<text x="0.00" y="3.20" font-size="13" text-anchor="middle" font-weight="normal" fill="#111" textLength="26.5" lengthAdjust="spacingAndGlyphs" >0.10</text>
</g>
<g transform="translate(341.97,545.87) rotate(-27.69)">
<text x="0.00" y="3.20" font-size="13" text-anchor="middle" font-weight="normal" fill="#111" textLength="26.5" lengthAdjust="spacingAndGlyphs" >0.14</text>
</g>
<g transform="translate(329.03,521.21) rotate(-27.69)">
<text x="0.00" y="3.20" font-size="13" text-anchor="middle" font-weight="normal" fill="#111" textLength="26.5" lengthAdjust="spacingAndGlyphs" >0.19</text>
</g>
<g transform="translate(316.08,496.55) rotate(-27.69)">
<text x="0.00" y="3.20" font-size="13" text-anchor="middle" font-weight="normal" fill="#111" textLength="26.5" lengthAdjust="spacingAndGlyphs" >0.24</text>
</g>
<g transform="translate(303.14,471.89) rotate(-27.69)">
<text x="0.00" y="3.20" font-size="13" text-anchor="middle" font-weight="normal" fill="#111" textLength="26.5" lengthAdjust="spacingAndGlyphs" >0.29</text>
</g>
<g transform="translate(290.20,447.23) rotate(-27.69)">
<text x="0.00" y="3.20" font-size="13" text-anchor="middle" font-weight="normal" fill="#111" textLength="26.5" lengthAdjust="spacingAndGlyphs" >0.33</text>
</g>
<g transform="translate(277.26,422.57) rotate(-27.69)">
<text x="0.00" y="3.20" font-size="13" text-anchor="middle" font-weight="normal" fill="#111" textLength="26.5" lengthAdjust="spacingAndGlyphs" >0.38</text>
</g>
<g transform="translate(264.31,397.91) rotate(-27.69)">
<text x="0.00" y="3.20" font-size="13" text-anchor="middle" font-weight="normal" fill="#111" textLength="26.5" lengthAdjust="spacingAndGlyphs" >0.43</text>
</g>
<g transform="translate(251.37,373.25) rotate(-27.69)">
<text x="0.00" y="3.20" font-size="13" text-anchor="middle" font-weight="normal" fill="#111" textLength="26.5" lengthAdjust="spacingAndGlyphs" >0.48</text>
</g>
<g transform="translate(381.40,313.50) rotate(0.00)">
<text x="0.00" y="-3.25" font-size="14.5" text-anchor="middle" font-weight="normal" fill="#000" textLength="87.8" lengthAdjust="spacingAndGlyphs" stroke="#000" stroke-width="0.25">Non-Penalty</text>
<text x="0.00" y="13.45" font-size="14.5" text-anchor="middle" font-weight="normal" fill="#000" textLength="41.7" lengthAdjust="spacingAndGlyphs" stroke="#000" stroke-width="0.25">Goals</text>
</g>
<g transform="translate(524.30,348.72) rotate(27.69)">
<text x="0.00" y="5.10" font-size="14.5" text-anchor="middle" font-weight="normal" fill="#000" textLength="112.6" lengthAdjust="spacingAndGlyphs" stroke="#000" stroke-width="0.25">Non-Penalty xG</text>
</g>
<g transform="translate(634.47,446.32) rotate(55.38)">
<text x="0.00" y="5.10" font-size="14.5" text-anchor="middle" font-weight="normal" fill="#000" textLength="86.9" lengthAdjust="spacingAndGlyphs" stroke="#000" stroke-width="0.25">xG Per Shot</text>
</g>
<g transform="translate(686.66,583.93) rotate(83.08)">
<text x="0.00" y="5.10" font-size="14.5" text-anchor="middle" font-weight="normal" fill="#000" textLength="119.7" lengthAdjust="spacingAndGlyphs" stroke="#000" stroke-width="0.25">Open Play Shots</text>
</g>
<g transform="translate(668.92,730.04) rotate(-69.23)">
<text x="0.00" y="5.10" font-size="14.5" text-anchor="middle" font-weight="normal" fill="#000" textLength="90.4" lengthAdjust="spacingAndGlyphs" stroke="#000" stroke-width="0.25">PSxG added</text>
</g>
<g transform="translate(585.31,851.17) rotate(-41.54)">
<text x="0.00" y="-3.25" font-size="14.5" text-anchor="middle" font-weight="normal" fill="#000" textLength="84.2" lengthAdjust="spacingAndGlyphs" stroke="#000" stroke-width="0.25">Progressive</text>
<text x="0.00" y="13.45" font-size="14.5" text-anchor="middle" font-weight="normal" fill="#000" textLength="123.2" lengthAdjust="spacingAndGlyphs" stroke="#000" stroke-width="0.25">Passes Received</text>
</g>
<g transform="translate(454.99,919.56) rotate(-13.85)">
<text x="0.00" y="-3.25" font-size="14.5" text-anchor="middle" font-weight="normal" fill="#000" textLength="83.8" lengthAdjust="spacingAndGlyphs" stroke="#000" stroke-width="0.25">Deep(&lt;25y)</text>
<text x="0.00" y="13.45" font-size="14.5" text-anchor="middle" font-weight="normal" fill="#000" textLength="59.4" lengthAdjust="spacingAndGlyphs" stroke="#000" stroke-width="0.25">Touches</text>
</g>
<g transform="translate(307.81,919.56) rotate(13.85)">
<text x="0.00" y="-3.25" font-size="14.5" text-anchor="middle" font-weight="normal" fill="#000" textLength="84.2" lengthAdjust="spacingAndGlyphs" stroke="#000" stroke-width="0.25">Progressive</text>
<text x="0.00" y="13.45" font-size="14.5" text-anchor="middle" font-weight="normal" fill="#000" textLength="51.4" lengthAdjust="spacingAndGlyphs" stroke="#000" stroke-width="0.25">Carries</text>
</g>
<g transform="translate(177.49,851.17) rotate(41.54)">
<text x="0.00" y="-3.25" font-size="14.5" text-anchor="middle" font-weight="normal" fill="#000" textLength="58.5" lengthAdjust="spacingAndGlyphs" stroke="#000" stroke-width="0.25">Dribbles</text>
<text x="0.00" y="13.45" font-size="14.5" text-anchor="middle" font-weight="normal" fill="#000" textLength="77.1" lengthAdjust="spacingAndGlyphs" stroke="#000" stroke-width="0.25">Completed</text>
</g>
<g transform="translate(93.88,730.04) rotate(69.23)">
<text x="0.00" y="5.10" font-size="14.5" text-anchor="middle" font-weight="normal" fill="#000" textLength="97.5" lengthAdjust="spacingAndGlyphs" stroke="#000" stroke-width="0.25">Open Play xA</text>
</g>
<g transform="translate(76.14,583.93) rotate(-83.08)">
<text x="0.00" y="-3.25" font-size="14.5" text-anchor="middle" font-weight="normal" fill="#000" textLength="84.2" lengthAdjust="spacingAndGlyphs" stroke="#000" stroke-width="0.25">Progressive</text>
<text x="0.00" y="13.45" font-size="14.5" text-anchor="middle" font-weight="normal" fill="#000" textLength="52.3" lengthAdjust="spacingAndGlyphs" stroke="#000" stroke-width="0.25">Passes</text>
</g>
<g transform="translate(128.33,446.32) rotate(-55.38)">
<text x="0.00" y="-3.25" font-size="14.5" text-anchor="middle" font-weight="normal" fill="#000" textLength="107.3" lengthAdjust="spacingAndGlyphs" stroke="#000" stroke-width="0.25">Padj Defensive</text>
<text x="0.00" y="13.45" font-size="14.5" text-anchor="middle" font-weight="normal" fill="#000" textLength="52.3" lengthAdjust="spacingAndGlyphs" stroke="#000" stroke-width="0.25">Actions</text>
</g>
<g transform="translate(238.50,348.72) rotate(-27.69)">
<text x="0.00" y="-11.60" font-size="14.5" text-anchor="middle" font-weight="normal" fill="#000" textLength="33.7" lengthAdjust="spacingAndGlyphs" stroke="#000" stroke-width="0.25">Goal</text>
<text x="0.00" y="5.10" font-size="14.5" text-anchor="middle" font-weight="normal" fill="#000" textLength="74.5" lengthAdjust="spacingAndGlyphs" stroke="#000" stroke-width="0.25">Probability</text>
<text x="0.00" y="21.80" font-size="14.5" text-anchor="middle" font-weight="normal" fill="#000" textLength="46.1" lengthAdjust="spacingAndGlyphs" stroke="#000" stroke-width="0.25">Added</text>
</g>
<circle cx="98.7" cy="1074.5" r="73.3" fill="#8b0000"/>
<circle cx="98.7" cy="1074.5" r="72.2" fill="#00004d"/>
<circle cx="98.7" cy="1074.5" r="54.5" fill="#990000"/>
<path d="M50.9,1051.2 L164.8,1051 L163.1,1065.9 L135.4,1066.5 L134,1069.3 L68,1069.8 L55.7,1069.3 L50.2,1065.9 Q44,1066.8 42.3,1061 Q41.3,1056 46,1055.2 Q47,1052 50.9,1051.2 Z" fill="#00004d" stroke="#fff" stroke-width="0.7"/>
<path d="M67.5,1084.2 Q54,1094 38.4,1100.4 L40.8,1105.3 Q58,1103 71.7,1096 z" fill="#00004d" stroke="#fff" stroke-width="0.7"/>
<circle cx="98.7" cy="1078" r="31.2" fill="#00004d" stroke="#fff" stroke-width="0.7"/>
<circle cx="98.7" cy="1078" r="27" fill="#ececec" stroke="#fff" stroke-width="0.7"/>
<polygon points="86,1054.5 97,1053.5 104,1064 119,1065 119.5,1085 108,1092.5 105,1104 93,1103 83,1097 86,1082 75,1074.5 85,1069" fill="#c94545"/>
<circle cx="98.7" cy="1078" r="9" fill="none" stroke="#bf3f3f" stroke-width="2.5"/>
<circle cx="98.7" cy="1078" r="3" fill="#bf3f3f"/>
<defs><path id="arcT" d="M41.2,1074.5 A57.5,57.5 0 0 1 156.2,1074.5"/><path id="arcB" d="M30.200000000000003,1074.5 A68.5,68.5 0 0 0 167.2,1074.5"/></defs>
<text font-size="16.5" font-weight="bold" fill="#fff" letter-spacing="3.6"><textPath href="#arcT" startOffset="51%" text-anchor="middle">CANNON</textPath></text>
<text font-size="17" font-weight="bold" fill="#fff" letter-spacing="3.3"><textPath href="#arcB" startOffset="51%" text-anchor="middle">STATS</textPath></text>
<text transform="translate(187.07,1064) scale(1.015,1)" font-size="49.5" font-weight="bold" fill="#00004d" stroke="#00004d" stroke-width="1.2" stroke-linejoin="round">C</text>
<text transform="translate(231.12,1064) scale(1.293,1)" font-size="49.5" font-weight="bold" fill="#00004d" stroke="#00004d" stroke-width="1.2" stroke-linejoin="round">A</text>
<text transform="translate(284.25,1064) scale(1.320,1)" font-size="49.5" font-weight="bold" fill="#00004d" stroke="#00004d" stroke-width="1.2" stroke-linejoin="round">N</text>
<text transform="translate(338.82,1064) scale(1.357,1)" font-size="49.5" font-weight="bold" fill="#00004d" stroke="#00004d" stroke-width="1.2" stroke-linejoin="round">N</text>
<text transform="translate(395.45,1064) scale(1.276,1)" font-size="49.5" font-weight="bold" fill="#00004d" stroke="#00004d" stroke-width="1.2" stroke-linejoin="round">O</text>
<text transform="translate(451.52,1064) scale(1.357,1)" font-size="49.5" font-weight="bold" fill="#00004d" stroke="#00004d" stroke-width="1.2" stroke-linejoin="round">N</text>
<text transform="translate(239.06,1119) scale(0.963,1)" font-size="49.5" font-weight="bold" fill="#00004d" stroke="#00004d" stroke-width="1.2" stroke-linejoin="round">S</text>
<text transform="translate(278.05,1119) scale(1.244,1)" font-size="49.5" font-weight="bold" fill="#00004d" stroke="#00004d" stroke-width="1.2" stroke-linejoin="round">T</text>
<text transform="translate(318.77,1119) scale(1.257,1)" font-size="49.5" font-weight="bold" fill="#00004d" stroke="#00004d" stroke-width="1.2" stroke-linejoin="round">A</text>
<text transform="translate(365.58,1119) scale(1.206,1)" font-size="49.5" font-weight="bold" fill="#00004d" stroke="#00004d" stroke-width="1.2" stroke-linejoin="round">T</text>
<text transform="translate(411.79,1119) scale(1.003,1)" font-size="49.5" font-weight="bold" fill="#00004d" stroke="#00004d" stroke-width="1.2" stroke-linejoin="round">S</text>
<text x="9.00" y="1184.50" font-size="19.8" text-anchor="start" font-weight="bold" fill="#000" textLength="201.0" lengthAdjust="spacingAndGlyphs" stroke="#000" stroke-width="0.8" stroke-linejoin="round">Created: 2025-12-03</text>
<text x="9.00" y="1213.00" font-size="18.6" text-anchor="start" font-weight="normal" fill="#111" textLength="369.0" lengthAdjust="spacingAndGlyphs" stroke="#111" stroke-width="0.3">Age is based on January 1st of the season</text>
<text x="1590.50" y="1213.00" font-size="25" text-anchor="end" font-weight="bold" fill="#000" textLength="226.0" lengthAdjust="spacingAndGlyphs" stroke="#000" stroke-width="0.9" stroke-linejoin="round">CannonStats.com</text>
<line x1="949.10" y1="89.70" x2="949.10" y2="143.30" stroke="#cbcbcb" stroke-width="1.4"/>
<text x="949.10" y="158.90" font-size="12.8" text-anchor="middle" font-weight="normal" fill="#111" textLength="20.6" lengthAdjust="spacingAndGlyphs" stroke="#111" stroke-width="0.12">0.0</text>
<line x1="1026.00" y1="89.70" x2="1026.00" y2="143.30" stroke="#cbcbcb" stroke-width="1.4"/>
<text x="1026.00" y="158.90" font-size="12.8" text-anchor="middle" font-weight="normal" fill="#111" textLength="20.6" lengthAdjust="spacingAndGlyphs" stroke="#111" stroke-width="0.12">0.2</text>
<line x1="1103.00" y1="89.70" x2="1103.00" y2="143.30" stroke="#cbcbcb" stroke-width="1.4"/>
<text x="1103.00" y="158.90" font-size="12.8" text-anchor="middle" font-weight="normal" fill="#111" textLength="20.6" lengthAdjust="spacingAndGlyphs" stroke="#111" stroke-width="0.12">0.4</text>
<line x1="1180.00" y1="89.70" x2="1180.00" y2="143.30" stroke="#cbcbcb" stroke-width="1.4"/>
<text x="1180.00" y="158.90" font-size="12.8" text-anchor="middle" font-weight="normal" fill="#111" textLength="20.6" lengthAdjust="spacingAndGlyphs" stroke="#111" stroke-width="0.12">0.6</text>
<line x1="1257.00" y1="89.70" x2="1257.00" y2="143.30" stroke="#cbcbcb" stroke-width="1.4"/>
<text x="1257.00" y="158.90" font-size="12.8" text-anchor="middle" font-weight="normal" fill="#111" textLength="20.6" lengthAdjust="spacingAndGlyphs" stroke="#111" stroke-width="0.12">0.8</text>
<line x1="1334.00" y1="89.70" x2="1334.00" y2="143.30" stroke="#cbcbcb" stroke-width="1.4"/>
<text x="1334.00" y="158.90" font-size="12.8" text-anchor="middle" font-weight="normal" fill="#111" textLength="20.6" lengthAdjust="spacingAndGlyphs" stroke="#111" stroke-width="0.12">1.0</text>
<line x1="1411.00" y1="89.70" x2="1411.00" y2="143.30" stroke="#cbcbcb" stroke-width="1.4"/>
<text x="1411.00" y="158.90" font-size="12.8" text-anchor="middle" font-weight="normal" fill="#111" textLength="20.6" lengthAdjust="spacingAndGlyphs" stroke="#111" stroke-width="0.12">1.2</text>
<defs><clipPath id="cl0"><rect x="905.25" y="79.70" width="187.15" height="80"/></clipPath><clipPath id="cr0"><rect x="1092.40" y="79.70" width="369.17" height="80"/></clipPath></defs>
<path d="M1092.40,117.32 C1092.52,117.34 1090.82,117.04 1093.13,117.44 C1095.43,117.83 1100.94,118.78 1106.25,119.69 C1111.56,120.59 1118.75,121.84 1125.00,122.88 C1131.25,123.91 1137.50,125.09 1143.75,125.88 C1150.00,126.66 1156.25,127.09 1162.50,127.56 C1168.75,128.03 1175.00,128.38 1181.25,128.69 C1187.50,129.00 1190.63,129.22 1200.00,129.44 C1209.38,129.66 1221.88,129.84 1237.50,130.00 C1253.13,130.16 1257.41,130.31 1293.75,130.38 C1330.10,130.44 1428.60,130.38 1455.57,130.38 L1455.57,130.38 L1092.40,130.38 Z" fill="rgba(128,128,128,0.25)"/>
<path d="M1093.40,130.38 L1455.57,130.38" fill="none" stroke="#808080" stroke-width="2.3" stroke-linecap="round"/>
<path d="M911.25,130.38 C912.50,130.25 916.56,130.16 918.75,129.63 C920.94,129.09 922.50,128.38 924.38,127.19 C926.25,126.00 928.13,124.53 930.00,122.50 C931.88,120.47 933.75,117.81 935.63,115.00 C937.50,112.19 939.38,108.44 941.25,105.63 C943.13,102.81 945.00,99.94 946.88,98.13 C948.75,96.31 950.00,95.63 952.50,94.75 C955.00,93.88 958.75,93.47 961.88,92.88 C965.00,92.28 968.13,91.53 971.25,91.19 C974.38,90.84 977.50,90.72 980.63,90.81 C983.75,90.91 986.88,91.41 990.00,91.75 C993.13,92.09 996.25,92.63 999.38,92.88 C1002.50,93.13 1005.63,93.00 1008.75,93.25 C1011.88,93.50 1015.00,93.72 1018.13,94.38 C1021.25,95.03 1024.38,96.16 1027.50,97.19 C1030.63,98.22 1033.75,99.47 1036.88,100.56 C1040.00,101.66 1043.13,102.66 1046.25,103.75 C1049.38,104.84 1052.50,105.94 1055.63,107.13 C1058.75,108.31 1061.88,109.72 1065.00,110.88 C1068.13,112.03 1071.25,113.22 1074.38,114.06 C1077.50,114.91 1080.75,115.39 1083.75,115.94 C1086.76,116.48 1090.96,117.09 1092.40,117.32 L1092.40,130.38 L911.25,130.38 Z" fill="rgba(250,33,33,0.85)" stroke="rgb(250,33,33)" stroke-width="4.5" stroke-linejoin="round"/>
<path d="M911.25,130.38 C912.50,130.25 916.56,130.16 918.75,129.63 C920.94,129.09 922.50,128.38 924.38,127.19 C926.25,126.00 928.13,124.53 930.00,122.50 C931.88,120.47 933.75,117.81 935.63,115.00 C937.50,112.19 939.38,108.44 941.25,105.63 C943.13,102.81 945.00,99.94 946.88,98.13 C948.75,96.31 950.00,95.63 952.50,94.75 C955.00,93.88 958.75,93.47 961.88,92.88 C965.00,92.28 968.13,91.53 971.25,91.19 C974.38,90.84 977.50,90.72 980.63,90.81 C983.75,90.91 986.88,91.41 990.00,91.75 C993.13,92.09 996.25,92.63 999.38,92.88 C1002.50,93.13 1005.63,93.00 1008.75,93.25 C1011.88,93.50 1015.00,93.72 1018.13,94.38 C1021.25,95.03 1024.38,96.16 1027.50,97.19 C1030.63,98.22 1033.75,99.47 1036.88,100.56 C1040.00,101.66 1043.13,102.66 1046.25,103.75 C1049.38,104.84 1052.50,105.94 1055.63,107.13 C1058.75,108.31 1061.88,109.72 1065.00,110.88 C1068.13,112.03 1071.25,113.22 1074.38,114.06 C1077.50,114.91 1080.63,115.38 1083.75,115.94 C1086.88,116.50 1089.38,116.81 1093.13,117.44 C1096.88,118.06 1100.94,118.78 1106.25,119.69 C1111.56,120.59 1118.75,121.84 1125.00,122.88 C1131.25,123.91 1137.50,125.09 1143.75,125.88 C1150.00,126.66 1156.25,127.09 1162.50,127.56 C1168.75,128.03 1175.00,128.38 1181.25,128.69 C1187.50,129.00 1190.63,129.22 1200.00,129.44 C1209.38,129.66 1221.88,129.84 1237.50,130.00 C1253.13,130.16 1257.41,130.31 1293.75,130.38 C1330.10,130.44 1428.60,130.38 1455.57,130.38" fill="none" stroke="#7f7f7f" stroke-width="2.5" stroke-linecap="round"/>
<polygon points="1092.40,129.70 1085.50,143.30 1099.30,143.30" fill="#2d2d2d" stroke="#3a1010" stroke-width="0.5"/>
<text x="885.00" y="110.80" font-size="20.3" text-anchor="end" font-weight="normal" fill="#111" textLength="114.0" lengthAdjust="spacingAndGlyphs" stroke="#111" stroke-width="0.3">Non-Penalty</text>
<text x="885.00" y="132.40" font-size="20.3" text-anchor="end" font-weight="normal" fill="#111" textLength="50.5" lengthAdjust="spacingAndGlyphs" stroke="#111" stroke-width="0.3">Goals</text>
<text x="1539.50" y="108.75" font-size="19.2" text-anchor="middle" font-weight="normal" fill="#111" textLength="37.4" lengthAdjust="spacingAndGlyphs" >0.37</text>
<text x="1531.30" y="130.50" font-size="19.2" text-anchor="end" font-weight="normal" fill="#111" textLength="32.5" lengthAdjust="spacingAndGlyphs" >per:</text>
<text x="1540.50" y="130.50" font-size="19.2" text-anchor="start" font-weight="normal" fill="rgb(239,25,26)" textLength="38.5" lengthAdjust="spacingAndGlyphs" >86.9</text>
<line x1="946.75" y1="172.79" x2="946.75" y2="226.39" stroke="#cbcbcb" stroke-width="1.4"/>
<text x="946.75" y="241.99" font-size="12.8" text-anchor="middle" font-weight="normal" fill="#111" textLength="20.6" lengthAdjust="spacingAndGlyphs" stroke="#111" stroke-width="0.12">0.0</text>
<line x1="1029.50" y1="172.79" x2="1029.50" y2="226.39" stroke="#cbcbcb" stroke-width="1.4"/>
<text x="1029.50" y="241.99" font-size="12.8" text-anchor="middle" font-weight="normal" fill="#111" textLength="20.6" lengthAdjust="spacingAndGlyphs" stroke="#111" stroke-width="0.12">0.2</text>
<line x1="1112.00" y1="172.79" x2="1112.00" y2="226.39" stroke="#cbcbcb" stroke-width="1.4"/>
<text x="1112.00" y="241.99" font-size="12.8" text-anchor="middle" font-weight="normal" fill="#111" textLength="20.6" lengthAdjust="spacingAndGlyphs" stroke="#111" stroke-width="0.12">0.4</text>
<line x1="1194.50" y1="172.79" x2="1194.50" y2="226.39" stroke="#cbcbcb" stroke-width="1.4"/>
<text x="1194.50" y="241.99" font-size="12.8" text-anchor="middle" font-weight="normal" fill="#111" textLength="20.6" lengthAdjust="spacingAndGlyphs" stroke="#111" stroke-width="0.12">0.6</text>
<line x1="1277.25" y1="172.79" x2="1277.25" y2="226.39" stroke="#cbcbcb" stroke-width="1.4"/>
<text x="1277.25" y="241.99" font-size="12.8" text-anchor="middle" font-weight="normal" fill="#111" textLength="20.6" lengthAdjust="spacingAndGlyphs" stroke="#111" stroke-width="0.12">0.8</text>
<line x1="1359.80" y1="172.79" x2="1359.80" y2="226.39" stroke="#cbcbcb" stroke-width="1.4"/>
<text x="1359.80" y="241.99" font-size="12.8" text-anchor="middle" font-weight="normal" fill="#111" textLength="20.6" lengthAdjust="spacingAndGlyphs" stroke="#111" stroke-width="0.12">1.0</text>
<line x1="1442.40" y1="172.79" x2="1442.40" y2="226.39" stroke="#cbcbcb" stroke-width="1.4"/>
<text x="1442.40" y="241.99" font-size="12.8" text-anchor="middle" font-weight="normal" fill="#111" textLength="20.6" lengthAdjust="spacingAndGlyphs" stroke="#111" stroke-width="0.12">1.2</text>
<defs><clipPath id="cl1"><rect x="905.25" y="162.79" width="118.70" height="80"/></clipPath><clipPath id="cr1"><rect x="1023.95" y="162.79" width="437.55" height="80"/></clipPath></defs>
<path d="M1023.95,176.49 C1024.96,176.74 1027.33,177.12 1030.00,178.00 C1032.67,178.88 1036.67,180.46 1040.00,181.75 C1043.33,183.04 1046.67,184.38 1050.00,185.75 C1053.33,187.12 1056.67,188.54 1060.00,190.00 C1063.33,191.46 1066.67,193.17 1070.00,194.50 C1073.33,195.83 1076.67,197.17 1080.00,198.00 C1083.33,198.83 1086.67,198.92 1090.00,199.50 C1093.33,200.08 1096.25,200.58 1100.00,201.50 C1103.75,202.42 1108.33,203.96 1112.50,205.00 C1116.67,206.04 1120.83,206.92 1125.00,207.75 C1129.17,208.58 1133.33,209.38 1137.50,210.00 C1141.67,210.62 1143.75,211.00 1150.00,211.50 C1156.25,212.00 1166.67,212.62 1175.00,213.00 C1183.33,213.38 1187.50,213.54 1200.00,213.75 C1212.50,213.96 1233.33,214.12 1250.00,214.25 C1266.67,214.38 1265.75,214.46 1300.00,214.50 C1334.25,214.54 1429.58,214.50 1455.50,214.50 L1455.50,214.50 L1023.95,214.50 Z" fill="rgba(128,128,128,0.25)"/>
<path d="M1024.95,214.50 L1455.50,214.50" fill="none" stroke="#808080" stroke-width="2.3" stroke-linecap="round"/>
<path d="M911.25,214.50 C913.12,214.42 919.38,214.33 922.50,214.00 C925.62,213.67 927.50,213.38 930.00,212.50 C932.50,211.62 935.00,210.42 937.50,208.75 C940.00,207.08 942.50,205.00 945.00,202.50 C947.50,200.00 950.00,196.46 952.50,193.75 C955.00,191.04 957.50,188.46 960.00,186.25 C962.50,184.04 965.00,182.04 967.50,180.50 C970.00,178.96 972.08,177.92 975.00,177.00 C977.92,176.08 980.83,175.46 985.00,175.00 C989.17,174.54 995.42,174.38 1000.00,174.25 C1004.58,174.12 1009.17,174.04 1012.50,174.25 C1015.83,174.46 1018.09,175.13 1020.00,175.50 C1021.91,175.87 1023.29,176.32 1023.95,176.49 L1023.95,214.50 L911.25,214.50 Z" fill="rgba(250,116,116,0.85)" stroke="rgb(250,116,116)" stroke-width="4.5" stroke-linejoin="round"/>
<path d="M911.25,214.50 C913.12,214.42 919.38,214.33 922.50,214.00 C925.62,213.67 927.50,213.38 930.00,212.50 C932.50,211.62 935.00,210.42 937.50,208.75 C940.00,207.08 942.50,205.00 945.00,202.50 C947.50,200.00 950.00,196.46 952.50,193.75 C955.00,191.04 957.50,188.46 960.00,186.25 C962.50,184.04 965.00,182.04 967.50,180.50 C970.00,178.96 972.08,177.92 975.00,177.00 C977.92,176.08 980.83,175.46 985.00,175.00 C989.17,174.54 995.42,174.38 1000.00,174.25 C1004.58,174.12 1009.17,174.04 1012.50,174.25 C1015.83,174.46 1017.08,174.88 1020.00,175.50 C1022.92,176.12 1026.67,176.96 1030.00,178.00 C1033.33,179.04 1036.67,180.46 1040.00,181.75 C1043.33,183.04 1046.67,184.38 1050.00,185.75 C1053.33,187.12 1056.67,188.54 1060.00,190.00 C1063.33,191.46 1066.67,193.17 1070.00,194.50 C1073.33,195.83 1076.67,197.17 1080.00,198.00 C1083.33,198.83 1086.67,198.92 1090.00,199.50 C1093.33,200.08 1096.25,200.58 1100.00,201.50 C1103.75,202.42 1108.33,203.96 1112.50,205.00 C1116.67,206.04 1120.83,206.92 1125.00,207.75 C1129.17,208.58 1133.33,209.38 1137.50,210.00 C1141.67,210.62 1143.75,211.00 1150.00,211.50 C1156.25,212.00 1166.67,212.62 1175.00,213.00 C1183.33,213.38 1187.50,213.54 1200.00,213.75 C1212.50,213.96 1233.33,214.12 1250.00,214.25 C1266.67,214.38 1265.75,214.46 1300.00,214.50 C1334.25,214.54 1429.58,214.50 1455.50,214.50" fill="none" stroke="#7f7f7f" stroke-width="2.5" stroke-linecap="round"/>
<polygon points="1024.25,212.79 1017.35,226.39 1031.15,226.39" fill="#2d2d2d" stroke="#3a1010" stroke-width="0.5"/>
<text x="885.00" y="193.55" font-size="20.3" text-anchor="end" font-weight="normal" fill="#111" textLength="114.0" lengthAdjust="spacingAndGlyphs" stroke="#111" stroke-width="0.3">Non-Penalty</text>
<text x="885.00" y="215.15" font-size="20.3" text-anchor="end" font-weight="normal" fill="#111" textLength="21.5" lengthAdjust="spacingAndGlyphs" stroke="#111" stroke-width="0.3">xG</text>
<text x="1539.50" y="191.37" font-size="19.2" text-anchor="middle" font-weight="normal" fill="#111" textLength="37.4" lengthAdjust="spacingAndGlyphs" >0.19</text>
<text x="1531.30" y="213.12" font-size="19.2" text-anchor="end" font-weight="normal" fill="#111" textLength="32.5" lengthAdjust="spacingAndGlyphs" >per:</text>
<text x="1540.50" y="213.12" font-size="19.2" text-anchor="start" font-weight="normal" fill="rgb(202,62,63)" textLength="38.5" lengthAdjust="spacingAndGlyphs" >54.7</text>
<line x1="929.25" y1="255.88" x2="929.25" y2="309.48" stroke="#cbcbcb" stroke-width="1.4"/>
<text x="929.25" y="325.08" font-size="12.8" text-anchor="middle" font-weight="normal" fill="#111" textLength="20.6" lengthAdjust="spacingAndGlyphs" stroke="#111" stroke-width="0.12">0.0</text>
<line x1="1046.50" y1="255.88" x2="1046.50" y2="309.48" stroke="#cbcbcb" stroke-width="1.4"/>
<text x="1046.50" y="325.08" font-size="12.8" text-anchor="middle" font-weight="normal" fill="#111" textLength="20.6" lengthAdjust="spacingAndGlyphs" stroke="#111" stroke-width="0.12">0.2</text>
<line x1="1163.50" y1="255.88" x2="1163.50" y2="309.48" stroke="#cbcbcb" stroke-width="1.4"/>
<text x="1163.50" y="325.08" font-size="12.8" text-anchor="middle" font-weight="normal" fill="#111" textLength="20.6" lengthAdjust="spacingAndGlyphs" stroke="#111" stroke-width="0.12">0.4</text>
<line x1="1280.75" y1="255.88" x2="1280.75" y2="309.48" stroke="#cbcbcb" stroke-width="1.4"/>
<text x="1280.75" y="325.08" font-size="12.8" text-anchor="middle" font-weight="normal" fill="#111" textLength="20.6" lengthAdjust="spacingAndGlyphs" stroke="#111" stroke-width="0.12">0.6</text>
<line x1="1398.00" y1="255.88" x2="1398.00" y2="309.48" stroke="#cbcbcb" stroke-width="1.4"/>
<text x="1398.00" y="325.08" font-size="12.8" text-anchor="middle" font-weight="normal" fill="#111" textLength="20.6" lengthAdjust="spacingAndGlyphs" stroke="#111" stroke-width="0.12">0.8</text>
<defs><clipPath id="cl2"><rect x="905.25" y="245.88" width="75.20" height="80"/></clipPath><clipPath id="cr2"><rect x="980.45" y="245.88" width="481.05" height="80"/></clipPath></defs>
<path d="M980.45,257.34 C981.62,257.58 985.08,258.14 987.50,258.75 C989.92,259.36 992.92,260.17 995.00,261.00 C997.08,261.83 998.33,262.67 1000.00,263.75 C1001.67,264.83 1003.33,266.25 1005.00,267.50 C1006.67,268.75 1008.33,270.00 1010.00,271.25 C1011.67,272.50 1013.33,273.75 1015.00,275.00 C1016.67,276.25 1018.33,277.54 1020.00,278.75 C1021.67,279.96 1023.33,281.21 1025.00,282.25 C1026.67,283.29 1028.33,284.12 1030.00,285.00 C1031.67,285.88 1033.33,286.75 1035.00,287.50 C1036.67,288.25 1038.33,288.88 1040.00,289.50 C1041.67,290.12 1043.33,290.58 1045.00,291.25 C1046.67,291.92 1048.33,292.88 1050.00,293.50 C1051.67,294.12 1053.33,294.54 1055.00,295.00 C1056.67,295.46 1057.50,295.92 1060.00,296.25 C1062.50,296.58 1066.67,296.79 1070.00,297.00 C1073.33,297.21 1076.25,297.29 1080.00,297.50 C1083.75,297.71 1080.83,298.08 1092.50,298.25 C1104.17,298.42 1089.50,298.46 1150.00,298.50 C1210.50,298.54 1404.58,298.50 1455.50,298.50 L1455.50,298.50 L980.45,298.50 Z" fill="rgba(128,128,128,0.25)"/>
<path d="M981.45,298.50 L1455.50,298.50" fill="none" stroke="#808080" stroke-width="2.3" stroke-linecap="round"/>
<path d="M911.25,298.50 C913.54,298.42 921.46,298.29 925.00,298.00 C928.54,297.71 930.42,297.38 932.50,296.75 C934.58,296.12 935.83,295.50 937.50,294.25 C939.17,293.00 940.83,291.12 942.50,289.25 C944.17,287.38 945.83,285.29 947.50,283.00 C949.17,280.71 950.83,277.79 952.50,275.50 C954.17,273.21 955.83,271.12 957.50,269.25 C959.17,267.38 960.83,265.79 962.50,264.25 C964.17,262.71 965.83,261.12 967.50,260.00 C969.17,258.88 970.42,257.96 972.50,257.50 C974.58,257.04 978.67,257.28 980.00,257.25 C981.33,257.22 980.38,257.33 980.45,257.34 L980.45,298.50 L911.25,298.50 Z" fill="rgba(250,143,143,0.85)" stroke="rgb(250,143,143)" stroke-width="4.5" stroke-linejoin="round"/>
<path d="M911.25,298.50 C913.54,298.42 921.46,298.29 925.00,298.00 C928.54,297.71 930.42,297.38 932.50,296.75 C934.58,296.12 935.83,295.50 937.50,294.25 C939.17,293.00 940.83,291.12 942.50,289.25 C944.17,287.38 945.83,285.29 947.50,283.00 C949.17,280.71 950.83,277.79 952.50,275.50 C954.17,273.21 955.83,271.12 957.50,269.25 C959.17,267.38 960.83,265.79 962.50,264.25 C964.17,262.71 965.83,261.12 967.50,260.00 C969.17,258.88 970.42,257.96 972.50,257.50 C974.58,257.04 977.50,257.04 980.00,257.25 C982.50,257.46 985.00,258.12 987.50,258.75 C990.00,259.38 992.92,260.17 995.00,261.00 C997.08,261.83 998.33,262.67 1000.00,263.75 C1001.67,264.83 1003.33,266.25 1005.00,267.50 C1006.67,268.75 1008.33,270.00 1010.00,271.25 C1011.67,272.50 1013.33,273.75 1015.00,275.00 C1016.67,276.25 1018.33,277.54 1020.00,278.75 C1021.67,279.96 1023.33,281.21 1025.00,282.25 C1026.67,283.29 1028.33,284.12 1030.00,285.00 C1031.67,285.88 1033.33,286.75 1035.00,287.50 C1036.67,288.25 1038.33,288.88 1040.00,289.50 C1041.67,290.12 1043.33,290.58 1045.00,291.25 C1046.67,291.92 1048.33,292.88 1050.00,293.50 C1051.67,294.12 1053.33,294.54 1055.00,295.00 C1056.67,295.46 1057.50,295.92 1060.00,296.25 C1062.50,296.58 1066.67,296.79 1070.00,297.00 C1073.33,297.21 1076.25,297.29 1080.00,297.50 C1083.75,297.71 1080.83,298.08 1092.50,298.25 C1104.17,298.42 1089.50,298.46 1150.00,298.50 C1210.50,298.54 1404.58,298.50 1455.50,298.50" fill="none" stroke="#7f7f7f" stroke-width="2.5" stroke-linecap="round"/>
<polygon points="982.75,295.88 975.85,309.48 989.65,309.48" fill="#2d2d2d" stroke="#3a1010" stroke-width="0.5"/>
<text x="885.00" y="276.30" font-size="20.3" text-anchor="end" font-weight="normal" fill="#111" textLength="57.0" lengthAdjust="spacingAndGlyphs" stroke="#111" stroke-width="0.3">xG Per</text>
<text x="885.00" y="297.90" font-size="20.3" text-anchor="end" font-weight="normal" fill="#111" textLength="41.7" lengthAdjust="spacingAndGlyphs" stroke="#111" stroke-width="0.3">Shot</text>
<text x="1539.50" y="273.99" font-size="19.2" text-anchor="middle" font-weight="normal" fill="#111" textLength="37.4" lengthAdjust="spacingAndGlyphs" >0.09</text>
<text x="1531.30" y="295.74" font-size="19.2" text-anchor="end" font-weight="normal" fill="#111" textLength="32.5" lengthAdjust="spacingAndGlyphs" >per:</text>
<text x="1540.50" y="295.74" font-size="19.2" text-anchor="start" font-weight="normal" fill="rgb(189,75,75)" textLength="38.5" lengthAdjust="spacingAndGlyphs" >44.1</text>
<line x1="950.75" y1="338.97" x2="950.75" y2="392.57" stroke="#cbcbcb" stroke-width="1.4"/>
<text x="950.75" y="408.17" font-size="12.8" text-anchor="middle" font-weight="normal" fill="#111" textLength="8.2" lengthAdjust="spacingAndGlyphs" stroke="#111" stroke-width="0.12">0</text>
<line x1="1035.25" y1="338.97" x2="1035.25" y2="392.57" stroke="#cbcbcb" stroke-width="1.4"/>
<text x="1035.25" y="408.17" font-size="12.8" text-anchor="middle" font-weight="normal" fill="#111" textLength="8.2" lengthAdjust="spacingAndGlyphs" stroke="#111" stroke-width="0.12">1</text>
<line x1="1119.75" y1="338.97" x2="1119.75" y2="392.57" stroke="#cbcbcb" stroke-width="1.4"/>
<text x="1119.75" y="408.17" font-size="12.8" text-anchor="middle" font-weight="normal" fill="#111" textLength="8.2" lengthAdjust="spacingAndGlyphs" stroke="#111" stroke-width="0.12">2</text>
<line x1="1204.25" y1="338.97" x2="1204.25" y2="392.57" stroke="#cbcbcb" stroke-width="1.4"/>
<text x="1204.25" y="408.17" font-size="12.8" text-anchor="middle" font-weight="normal" fill="#111" textLength="8.2" lengthAdjust="spacingAndGlyphs" stroke="#111" stroke-width="0.12">3</text>
<line x1="1289.00" y1="338.97" x2="1289.00" y2="392.57" stroke="#cbcbcb" stroke-width="1.4"/>
<text x="1289.00" y="408.17" font-size="12.8" text-anchor="middle" font-weight="normal" fill="#111" textLength="8.2" lengthAdjust="spacingAndGlyphs" stroke="#111" stroke-width="0.12">4</text>
<line x1="1373.50" y1="338.97" x2="1373.50" y2="392.57" stroke="#cbcbcb" stroke-width="1.4"/>
<text x="1373.50" y="408.17" font-size="12.8" text-anchor="middle" font-weight="normal" fill="#111" textLength="8.2" lengthAdjust="spacingAndGlyphs" stroke="#111" stroke-width="0.12">5</text>
<line x1="1458.00" y1="338.97" x2="1458.00" y2="392.57" stroke="#cbcbcb" stroke-width="1.4"/>
<text x="1458.00" y="408.17" font-size="12.8" text-anchor="middle" font-weight="normal" fill="#111" textLength="8.2" lengthAdjust="spacingAndGlyphs" stroke="#111" stroke-width="0.12">6</text>
<defs><clipPath id="cl3"><rect x="905.25" y="328.97" width="200.70" height="80"/></clipPath><clipPath id="cr3"><rect x="1105.95" y="328.97" width="355.55" height="80"/></clipPath></defs>
<path d="M1105.95,345.11 C1107.46,345.67 1111.83,347.31 1115.00,348.50 C1118.17,349.69 1121.67,351.08 1125.00,352.25 C1128.33,353.42 1131.67,354.38 1135.00,355.50 C1138.33,356.62 1141.67,357.79 1145.00,359.00 C1148.33,360.21 1151.67,361.50 1155.00,362.75 C1158.33,364.00 1161.67,365.33 1165.00,366.50 C1168.33,367.67 1171.67,368.79 1175.00,369.75 C1178.33,370.71 1181.67,371.50 1185.00,372.25 C1188.33,373.00 1191.67,373.62 1195.00,374.25 C1198.33,374.88 1201.67,375.42 1205.00,376.00 C1208.33,376.58 1211.67,377.25 1215.00,377.75 C1218.33,378.25 1221.25,378.67 1225.00,379.00 C1228.75,379.33 1233.33,379.54 1237.50,379.75 C1241.67,379.96 1243.75,380.08 1250.00,380.25 C1256.25,380.42 1266.67,380.62 1275.00,380.75 C1283.33,380.88 1269.92,380.96 1300.00,381.00 C1330.08,381.04 1429.58,381.00 1455.50,381.00 L1455.50,381.00 L1105.95,381.00 Z" fill="rgba(128,128,128,0.25)"/>
<path d="M1106.95,381.00 L1455.50,381.00" fill="none" stroke="#808080" stroke-width="2.3" stroke-linecap="round"/>
<path d="M911.25,381.00 C913.54,380.88 921.04,380.67 925.00,380.25 C928.96,379.83 931.67,379.42 935.00,378.50 C938.33,377.58 941.67,376.21 945.00,374.75 C948.33,373.29 951.67,371.42 955.00,369.75 C958.33,368.08 961.67,366.29 965.00,364.75 C968.33,363.21 971.67,361.75 975.00,360.50 C978.33,359.25 981.67,358.17 985.00,357.25 C988.33,356.33 991.67,355.75 995.00,355.00 C998.33,354.25 1001.67,353.54 1005.00,352.75 C1008.33,351.96 1011.67,351.08 1015.00,350.25 C1018.33,349.42 1021.67,348.58 1025.00,347.75 C1028.33,346.92 1031.67,346.08 1035.00,345.25 C1038.33,344.42 1041.67,343.46 1045.00,342.75 C1048.33,342.04 1051.67,341.42 1055.00,341.00 C1058.33,340.58 1061.67,340.38 1065.00,340.25 C1068.33,340.12 1071.67,340.12 1075.00,340.25 C1078.33,340.38 1081.67,340.62 1085.00,341.00 C1088.33,341.38 1091.67,341.88 1095.00,342.50 C1098.33,343.12 1103.17,344.32 1105.00,344.75 C1106.83,345.18 1105.79,345.05 1105.95,345.11 L1105.95,381.00 L911.25,381.00 Z" fill="rgba(250,72,72,0.85)" stroke="rgb(250,72,72)" stroke-width="4.5" stroke-linejoin="round"/>
<path d="M911.25,381.00 C913.54,380.88 921.04,380.67 925.00,380.25 C928.96,379.83 931.67,379.42 935.00,378.50 C938.33,377.58 941.67,376.21 945.00,374.75 C948.33,373.29 951.67,371.42 955.00,369.75 C958.33,368.08 961.67,366.29 965.00,364.75 C968.33,363.21 971.67,361.75 975.00,360.50 C978.33,359.25 981.67,358.17 985.00,357.25 C988.33,356.33 991.67,355.75 995.00,355.00 C998.33,354.25 1001.67,353.54 1005.00,352.75 C1008.33,351.96 1011.67,351.08 1015.00,350.25 C1018.33,349.42 1021.67,348.58 1025.00,347.75 C1028.33,346.92 1031.67,346.08 1035.00,345.25 C1038.33,344.42 1041.67,343.46 1045.00,342.75 C1048.33,342.04 1051.67,341.42 1055.00,341.00 C1058.33,340.58 1061.67,340.38 1065.00,340.25 C1068.33,340.12 1071.67,340.12 1075.00,340.25 C1078.33,340.38 1081.67,340.62 1085.00,341.00 C1088.33,341.38 1091.67,341.88 1095.00,342.50 C1098.33,343.12 1101.67,343.75 1105.00,344.75 C1108.33,345.75 1111.67,347.25 1115.00,348.50 C1118.33,349.75 1121.67,351.08 1125.00,352.25 C1128.33,353.42 1131.67,354.38 1135.00,355.50 C1138.33,356.62 1141.67,357.79 1145.00,359.00 C1148.33,360.21 1151.67,361.50 1155.00,362.75 C1158.33,364.00 1161.67,365.33 1165.00,366.50 C1168.33,367.67 1171.67,368.79 1175.00,369.75 C1178.33,370.71 1181.67,371.50 1185.00,372.25 C1188.33,373.00 1191.67,373.62 1195.00,374.25 C1198.33,374.88 1201.67,375.42 1205.00,376.00 C1208.33,376.58 1211.67,377.25 1215.00,377.75 C1218.33,378.25 1221.25,378.67 1225.00,379.00 C1228.75,379.33 1233.33,379.54 1237.50,379.75 C1241.67,379.96 1243.75,380.08 1250.00,380.25 C1256.25,380.42 1266.67,380.62 1275.00,380.75 C1283.33,380.88 1269.92,380.96 1300.00,381.00 C1330.08,381.04 1429.58,381.00 1455.50,381.00" fill="none" stroke="#7f7f7f" stroke-width="2.5" stroke-linecap="round"/>
<polygon points="1107.75,378.97 1100.85,392.57 1114.65,392.57" fill="#2d2d2d" stroke="#3a1010" stroke-width="0.5"/>
<text x="885.00" y="359.05" font-size="20.3" text-anchor="end" font-weight="normal" fill="#111" textLength="91.9" lengthAdjust="spacingAndGlyphs" stroke="#111" stroke-width="0.3">Open Play</text>
<text x="885.00" y="380.65" font-size="20.3" text-anchor="end" font-weight="normal" fill="#111" textLength="52.1" lengthAdjust="spacingAndGlyphs" stroke="#111" stroke-width="0.3">Shots</text>
<text x="1539.50" y="356.61" font-size="19.2" text-anchor="middle" font-weight="normal" fill="#111" textLength="37.4" lengthAdjust="spacingAndGlyphs" >1.86</text>
<text x="1531.30" y="378.36" font-size="19.2" text-anchor="end" font-weight="normal" fill="#111" textLength="32.5" lengthAdjust="spacingAndGlyphs" >per:</text>
<text x="1540.50" y="378.36" font-size="19.2" text-anchor="start" font-weight="normal" fill="rgb(221,43,44)" textLength="38.5" lengthAdjust="spacingAndGlyphs" >71.6</text>
<line x1="974.25" y1="422.06" x2="974.25" y2="475.66" stroke="#cbcbcb" stroke-width="1.4"/>
<text x="974.25" y="491.26" font-size="12.8" text-anchor="middle" font-weight="normal" fill="#111" textLength="27.5" lengthAdjust="spacingAndGlyphs" stroke="#111" stroke-width="0.12">-0.2</text>
<line x1="1078.00" y1="422.06" x2="1078.00" y2="475.66" stroke="#cbcbcb" stroke-width="1.4"/>
<text x="1078.00" y="491.26" font-size="12.8" text-anchor="middle" font-weight="normal" fill="#111" textLength="27.5" lengthAdjust="spacingAndGlyphs" stroke="#111" stroke-width="0.12">-0.1</text>
<line x1="1181.25" y1="422.06" x2="1181.25" y2="475.66" stroke="#cbcbcb" stroke-width="1.4"/>
<text x="1181.25" y="491.26" font-size="12.8" text-anchor="middle" font-weight="normal" fill="#111" textLength="20.6" lengthAdjust="spacingAndGlyphs" stroke="#111" stroke-width="0.12">0.0</text>
<line x1="1285.00" y1="422.06" x2="1285.00" y2="475.66" stroke="#cbcbcb" stroke-width="1.4"/>
<text x="1285.00" y="491.26" font-size="12.8" text-anchor="middle" font-weight="normal" fill="#111" textLength="20.6" lengthAdjust="spacingAndGlyphs" stroke="#111" stroke-width="0.12">0.1</text>
<line x1="1388.50" y1="422.06" x2="1388.50" y2="475.66" stroke="#cbcbcb" stroke-width="1.4"/>
<text x="1388.50" y="491.26" font-size="12.8" text-anchor="middle" font-weight="normal" fill="#111" textLength="20.6" lengthAdjust="spacingAndGlyphs" stroke="#111" stroke-width="0.12">0.2</text>
<defs><clipPath id="cl4"><rect x="905.25" y="412.06" width="301.50" height="80"/></clipPath><clipPath id="cr4"><rect x="1206.75" y="412.06" width="254.75" height="80"/></clipPath></defs>
<path d="M1206.75,431.37 C1207.29,431.60 1206.96,431.27 1210.00,432.75 C1213.04,434.23 1220.42,438.17 1225.00,440.25 C1229.58,442.33 1233.33,443.58 1237.50,445.25 C1241.67,446.92 1245.83,448.67 1250.00,450.25 C1254.17,451.83 1258.33,453.46 1262.50,454.75 C1266.67,456.04 1271.25,457.12 1275.00,458.00 C1278.75,458.88 1280.83,459.33 1285.00,460.00 C1289.17,460.67 1295.00,461.46 1300.00,462.00 C1305.00,462.54 1308.75,462.88 1315.00,463.25 C1321.25,463.62 1327.50,464.00 1337.50,464.25 C1347.50,464.50 1355.33,464.67 1375.00,464.75 C1394.67,464.83 1442.08,464.75 1455.50,464.75 L1455.50,464.75 L1206.75,464.75 Z" fill="rgba(128,128,128,0.25)"/>
<path d="M1207.75,464.75 L1455.50,464.75" fill="none" stroke="#808080" stroke-width="2.3" stroke-linecap="round"/>
<path d="M911.25,464.75 C921.88,464.67 958.12,464.46 975.00,464.25 C991.88,464.04 1002.08,463.75 1012.50,463.50 C1022.92,463.25 1029.17,463.12 1037.50,462.75 C1045.83,462.38 1055.42,461.75 1062.50,461.25 C1069.58,460.75 1075.42,460.25 1080.00,459.75 C1084.58,459.25 1086.67,458.88 1090.00,458.25 C1093.33,457.62 1096.67,456.79 1100.00,456.00 C1103.33,455.21 1106.67,454.38 1110.00,453.50 C1113.33,452.62 1116.67,451.71 1120.00,450.75 C1123.33,449.79 1127.08,448.75 1130.00,447.75 C1132.92,446.75 1135.00,445.92 1137.50,444.75 C1140.00,443.58 1142.50,442.33 1145.00,440.75 C1147.50,439.17 1150.00,437.21 1152.50,435.25 C1155.00,433.29 1157.50,430.75 1160.00,429.00 C1162.50,427.25 1165.00,425.71 1167.50,424.75 C1170.00,423.79 1172.08,423.46 1175.00,423.25 C1177.92,423.04 1182.08,423.12 1185.00,423.50 C1187.92,423.88 1190.00,424.67 1192.50,425.50 C1195.00,426.33 1197.62,427.52 1200.00,428.50 C1202.38,429.48 1205.62,430.89 1206.75,431.37 L1206.75,464.75 L911.25,464.75 Z" fill="rgba(250,80,80,0.85)" stroke="rgb(250,80,80)" stroke-width="4.5" stroke-linejoin="round"/>
<path d="M911.25,464.75 C921.88,464.67 958.12,464.46 975.00,464.25 C991.88,464.04 1002.08,463.75 1012.50,463.50 C1022.92,463.25 1029.17,463.12 1037.50,462.75 C1045.83,462.38 1055.42,461.75 1062.50,461.25 C1069.58,460.75 1075.42,460.25 1080.00,459.75 C1084.58,459.25 1086.67,458.88 1090.00,458.25 C1093.33,457.62 1096.67,456.79 1100.00,456.00 C1103.33,455.21 1106.67,454.38 1110.00,453.50 C1113.33,452.62 1116.67,451.71 1120.00,450.75 C1123.33,449.79 1127.08,448.75 1130.00,447.75 C1132.92,446.75 1135.00,445.92 1137.50,444.75 C1140.00,443.58 1142.50,442.33 1145.00,440.75 C1147.50,439.17 1150.00,437.21 1152.50,435.25 C1155.00,433.29 1157.50,430.75 1160.00,429.00 C1162.50,427.25 1165.00,425.71 1167.50,424.75 C1170.00,423.79 1172.08,423.46 1175.00,423.25 C1177.92,423.04 1182.08,423.12 1185.00,423.50 C1187.92,423.88 1190.00,424.67 1192.50,425.50 C1195.00,426.33 1197.08,427.29 1200.00,428.50 C1202.92,429.71 1205.83,430.79 1210.00,432.75 C1214.17,434.71 1220.42,438.17 1225.00,440.25 C1229.58,442.33 1233.33,443.58 1237.50,445.25 C1241.67,446.92 1245.83,448.67 1250.00,450.25 C1254.17,451.83 1258.33,453.46 1262.50,454.75 C1266.67,456.04 1271.25,457.12 1275.00,458.00 C1278.75,458.88 1280.83,459.33 1285.00,460.00 C1289.17,460.67 1295.00,461.46 1300.00,462.00 C1305.00,462.54 1308.75,462.88 1315.00,463.25 C1321.25,463.62 1327.50,464.00 1337.50,464.25 C1347.50,464.50 1355.33,464.67 1375.00,464.75 C1394.67,464.83 1442.08,464.75 1455.50,464.75" fill="none" stroke="#7f7f7f" stroke-width="2.5" stroke-linecap="round"/>
<polygon points="1207.00,462.06 1200.10,475.66 1213.90,475.66" fill="#2d2d2d" stroke="#3a1010" stroke-width="0.5"/>
<text x="885.00" y="441.80" font-size="20.3" text-anchor="end" font-weight="normal" fill="#111" textLength="44.3" lengthAdjust="spacingAndGlyphs" stroke="#111" stroke-width="0.3">PSxG</text>
<text x="885.00" y="463.40" font-size="20.3" text-anchor="end" font-weight="normal" fill="#111" textLength="58.6" lengthAdjust="spacingAndGlyphs" stroke="#111" stroke-width="0.3">added</text>
<text x="1539.50" y="439.23" font-size="19.2" text-anchor="middle" font-weight="normal" fill="#111" textLength="37.4" lengthAdjust="spacingAndGlyphs" >0.02</text>
<text x="1531.30" y="460.98" font-size="19.2" text-anchor="end" font-weight="normal" fill="#111" textLength="32.5" lengthAdjust="spacingAndGlyphs" >per:</text>
<text x="1540.50" y="460.98" font-size="19.2" text-anchor="start" font-weight="normal" fill="rgb(218,46,47)" textLength="38.5" lengthAdjust="spacingAndGlyphs" >68.7</text>
<line x1="957.75" y1="505.15" x2="957.75" y2="558.75" stroke="#cbcbcb" stroke-width="1.4"/>
<text x="957.75" y="574.35" font-size="12.8" text-anchor="middle" font-weight="normal" fill="#111" textLength="20.6" lengthAdjust="spacingAndGlyphs" stroke="#111" stroke-width="0.12">0.0</text>
<line x1="1037.25" y1="505.15" x2="1037.25" y2="558.75" stroke="#cbcbcb" stroke-width="1.4"/>
<text x="1037.25" y="574.35" font-size="12.8" text-anchor="middle" font-weight="normal" fill="#111" textLength="20.6" lengthAdjust="spacingAndGlyphs" stroke="#111" stroke-width="0.12">2.5</text>
<line x1="1117.00" y1="505.15" x2="1117.00" y2="558.75" stroke="#cbcbcb" stroke-width="1.4"/>
<text x="1117.00" y="574.35" font-size="12.8" text-anchor="middle" font-weight="normal" fill="#111" textLength="20.6" lengthAdjust="spacingAndGlyphs" stroke="#111" stroke-width="0.12">5.0</text>
<line x1="1197.25" y1="505.15" x2="1197.25" y2="558.75" stroke="#cbcbcb" stroke-width="1.4"/>
<text x="1197.25" y="574.35" font-size="12.8" text-anchor="middle" font-weight="normal" fill="#111" textLength="20.6" lengthAdjust="spacingAndGlyphs" stroke="#111" stroke-width="0.12">7.5</text>
<line x1="1277.25" y1="505.15" x2="1277.25" y2="558.75" stroke="#cbcbcb" stroke-width="1.4"/>
<text x="1277.25" y="574.35" font-size="12.8" text-anchor="middle" font-weight="normal" fill="#111" textLength="27.5" lengthAdjust="spacingAndGlyphs" stroke="#111" stroke-width="0.12">10.0</text>
<line x1="1357.00" y1="505.15" x2="1357.00" y2="558.75" stroke="#cbcbcb" stroke-width="1.4"/>
<text x="1357.00" y="574.35" font-size="12.8" text-anchor="middle" font-weight="normal" fill="#111" textLength="27.5" lengthAdjust="spacingAndGlyphs" stroke="#111" stroke-width="0.12">12.5</text>
<line x1="1437.00" y1="505.15" x2="1437.00" y2="558.75" stroke="#cbcbcb" stroke-width="1.4"/>
<text x="1437.00" y="574.35" font-size="12.8" text-anchor="middle" font-weight="normal" fill="#111" textLength="27.5" lengthAdjust="spacingAndGlyphs" stroke="#111" stroke-width="0.12">15.0</text>
<defs><clipPath id="cl5"><rect x="905.25" y="495.15" width="217.00" height="80"/></clipPath><clipPath id="cr5"><rect x="1122.25" y="495.15" width="339.25" height="80"/></clipPath></defs>
<path d="M1122.25,506.64 C1122.71,506.66 1122.46,506.48 1125.00,506.75 C1127.54,507.02 1133.33,507.58 1137.50,508.25 C1141.67,508.92 1145.83,509.71 1150.00,510.75 C1154.17,511.79 1158.33,513.25 1162.50,514.50 C1166.67,515.75 1170.83,517.00 1175.00,518.25 C1179.17,519.50 1183.33,520.83 1187.50,522.00 C1191.67,523.17 1195.83,524.29 1200.00,525.25 C1204.17,526.21 1208.33,526.83 1212.50,527.75 C1216.67,528.67 1220.83,529.79 1225.00,530.75 C1229.17,531.71 1233.33,532.67 1237.50,533.50 C1241.67,534.33 1245.83,535.08 1250.00,535.75 C1254.17,536.42 1258.33,537.00 1262.50,537.50 C1266.67,538.00 1270.83,538.38 1275.00,538.75 C1279.17,539.12 1283.33,539.50 1287.50,539.75 C1291.67,540.00 1293.75,540.08 1300.00,540.25 C1306.25,540.42 1316.67,540.60 1325.00,540.75 C1333.33,540.90 1328.25,541.04 1350.00,541.12 C1371.75,541.21 1437.92,541.23 1455.50,541.25 L1455.50,541.25 L1122.25,541.25 Z" fill="rgba(128,128,128,0.25)"/>
<path d="M1123.25,541.25 L1455.50,541.25" fill="none" stroke="#808080" stroke-width="2.3" stroke-linecap="round"/>
<path d="M911.25,541.25 C913.54,541.17 920.62,541.04 925.00,540.75 C929.38,540.46 933.33,540.12 937.50,539.50 C941.67,538.88 946.25,537.96 950.00,537.00 C953.75,536.04 956.67,535.00 960.00,533.75 C963.33,532.50 966.67,530.83 970.00,529.50 C973.33,528.17 976.67,526.79 980.00,525.75 C983.33,524.71 986.67,523.88 990.00,523.25 C993.33,522.62 996.25,522.29 1000.00,522.00 C1003.75,521.71 1008.33,521.75 1012.50,521.50 C1016.67,521.25 1020.83,520.96 1025.00,520.50 C1029.17,520.04 1033.33,519.54 1037.50,518.75 C1041.67,517.96 1045.83,516.75 1050.00,515.75 C1054.17,514.75 1058.33,513.67 1062.50,512.75 C1066.67,511.83 1070.83,511.00 1075.00,510.25 C1079.17,509.50 1083.33,508.83 1087.50,508.25 C1091.67,507.67 1095.83,507.08 1100.00,506.75 C1104.17,506.42 1108.79,506.27 1112.50,506.25 C1116.21,506.23 1120.62,506.57 1122.25,506.64 L1122.25,541.25 L911.25,541.25 Z" fill="rgba(250,106,106,0.85)" stroke="rgb(250,106,106)" stroke-width="4.5" stroke-linejoin="round"/>
<path d="M911.25,541.25 C913.54,541.17 920.62,541.04 925.00,540.75 C929.38,540.46 933.33,540.12 937.50,539.50 C941.67,538.88 946.25,537.96 950.00,537.00 C953.75,536.04 956.67,535.00 960.00,533.75 C963.33,532.50 966.67,530.83 970.00,529.50 C973.33,528.17 976.67,526.79 980.00,525.75 C983.33,524.71 986.67,523.88 990.00,523.25 C993.33,522.62 996.25,522.29 1000.00,522.00 C1003.75,521.71 1008.33,521.75 1012.50,521.50 C1016.67,521.25 1020.83,520.96 1025.00,520.50 C1029.17,520.04 1033.33,519.54 1037.50,518.75 C1041.67,517.96 1045.83,516.75 1050.00,515.75 C1054.17,514.75 1058.33,513.67 1062.50,512.75 C1066.67,511.83 1070.83,511.00 1075.00,510.25 C1079.17,509.50 1083.33,508.83 1087.50,508.25 C1091.67,507.67 1095.83,507.08 1100.00,506.75 C1104.17,506.42 1108.33,506.25 1112.50,506.25 C1116.67,506.25 1120.83,506.42 1125.00,506.75 C1129.17,507.08 1133.33,507.58 1137.50,508.25 C1141.67,508.92 1145.83,509.71 1150.00,510.75 C1154.17,511.79 1158.33,513.25 1162.50,514.50 C1166.67,515.75 1170.83,517.00 1175.00,518.25 C1179.17,519.50 1183.33,520.83 1187.50,522.00 C1191.67,523.17 1195.83,524.29 1200.00,525.25 C1204.17,526.21 1208.33,526.83 1212.50,527.75 C1216.67,528.67 1220.83,529.79 1225.00,530.75 C1229.17,531.71 1233.33,532.67 1237.50,533.50 C1241.67,534.33 1245.83,535.08 1250.00,535.75 C1254.17,536.42 1258.33,537.00 1262.50,537.50 C1266.67,538.00 1270.83,538.38 1275.00,538.75 C1279.17,539.12 1283.33,539.50 1287.50,539.75 C1291.67,540.00 1293.75,540.08 1300.00,540.25 C1306.25,540.42 1316.67,540.60 1325.00,540.75 C1333.33,540.90 1328.25,541.04 1350.00,541.12 C1371.75,541.21 1437.92,541.23 1455.50,541.25" fill="none" stroke="#7f7f7f" stroke-width="2.5" stroke-linecap="round"/>
<polygon points="1123.75,545.15 1116.85,558.75 1130.65,558.75" fill="#2d2d2d" stroke="#3a1010" stroke-width="0.5"/>
<text x="885.00" y="524.55" font-size="20.3" text-anchor="end" font-weight="normal" fill="#111" textLength="106.5" lengthAdjust="spacingAndGlyphs" stroke="#111" stroke-width="0.3">Progressive</text>
<text x="885.00" y="546.15" font-size="20.3" text-anchor="end" font-weight="normal" fill="#111" textLength="154.7" lengthAdjust="spacingAndGlyphs" stroke="#111" stroke-width="0.3">Passes Received</text>
<text x="1539.50" y="521.85" font-size="19.2" text-anchor="middle" font-weight="normal" fill="#111" textLength="37.4" lengthAdjust="spacingAndGlyphs" >5.21</text>
<text x="1531.30" y="543.60" font-size="19.2" text-anchor="end" font-weight="normal" fill="#111" textLength="32.5" lengthAdjust="spacingAndGlyphs" >per:</text>
<text x="1540.50" y="543.60" font-size="19.2" text-anchor="start" font-weight="normal" fill="rgb(206,58,59)" textLength="38.5" lengthAdjust="spacingAndGlyphs" >58.5</text>
<line x1="954.25" y1="588.24" x2="954.25" y2="641.84" stroke="#cbcbcb" stroke-width="1.4"/>
<text x="954.25" y="657.44" font-size="12.8" text-anchor="middle" font-weight="normal" fill="#111" textLength="20.6" lengthAdjust="spacingAndGlyphs" stroke="#111" stroke-width="0.12">0.0</text>
<line x1="1026.50" y1="588.24" x2="1026.50" y2="641.84" stroke="#cbcbcb" stroke-width="1.4"/>
<text x="1026.50" y="657.44" font-size="12.8" text-anchor="middle" font-weight="normal" fill="#111" textLength="20.6" lengthAdjust="spacingAndGlyphs" stroke="#111" stroke-width="0.12">2.5</text>
<line x1="1098.50" y1="588.24" x2="1098.50" y2="641.84" stroke="#cbcbcb" stroke-width="1.4"/>
<text x="1098.50" y="657.44" font-size="12.8" text-anchor="middle" font-weight="normal" fill="#111" textLength="20.6" lengthAdjust="spacingAndGlyphs" stroke="#111" stroke-width="0.12">5.0</text>
<line x1="1170.50" y1="588.24" x2="1170.50" y2="641.84" stroke="#cbcbcb" stroke-width="1.4"/>
<text x="1170.50" y="657.44" font-size="12.8" text-anchor="middle" font-weight="normal" fill="#111" textLength="20.6" lengthAdjust="spacingAndGlyphs" stroke="#111" stroke-width="0.12">7.5</text>
<line x1="1242.75" y1="588.24" x2="1242.75" y2="641.84" stroke="#cbcbcb" stroke-width="1.4"/>
<text x="1242.75" y="657.44" font-size="12.8" text-anchor="middle" font-weight="normal" fill="#111" textLength="27.5" lengthAdjust="spacingAndGlyphs" stroke="#111" stroke-width="0.12">10.0</text>
<line x1="1315.00" y1="588.24" x2="1315.00" y2="641.84" stroke="#cbcbcb" stroke-width="1.4"/>
<text x="1315.00" y="657.44" font-size="12.8" text-anchor="middle" font-weight="normal" fill="#111" textLength="27.5" lengthAdjust="spacingAndGlyphs" stroke="#111" stroke-width="0.12">12.5</text>
<line x1="1387.00" y1="588.24" x2="1387.00" y2="641.84" stroke="#cbcbcb" stroke-width="1.4"/>
<text x="1387.00" y="657.44" font-size="12.8" text-anchor="middle" font-weight="normal" fill="#111" textLength="27.5" lengthAdjust="spacingAndGlyphs" stroke="#111" stroke-width="0.12">15.0</text>
<line x1="1459.00" y1="588.24" x2="1459.00" y2="641.84" stroke="#cbcbcb" stroke-width="1.4"/>
<text x="1459.00" y="657.44" font-size="12.8" text-anchor="middle" font-weight="normal" fill="#111" textLength="27.5" lengthAdjust="spacingAndGlyphs" stroke="#111" stroke-width="0.12">17.5</text>
<defs><clipPath id="cl6"><rect x="905.25" y="578.24" width="235.75" height="80"/></clipPath><clipPath id="cr6"><rect x="1141.00" y="578.24" width="320.50" height="80"/></clipPath></defs>
<path d="M1141.00,599.09 C1142.50,599.45 1146.42,600.39 1150.00,601.25 C1153.58,602.11 1158.33,603.21 1162.50,604.25 C1166.67,605.29 1170.83,606.33 1175.00,607.50 C1179.17,608.67 1183.33,610.08 1187.50,611.25 C1191.67,612.42 1195.83,613.54 1200.00,614.50 C1204.17,615.46 1208.33,616.29 1212.50,617.00 C1216.67,617.71 1220.83,618.25 1225.00,618.75 C1229.17,619.25 1233.33,619.62 1237.50,620.00 C1241.67,620.38 1245.83,620.67 1250.00,621.00 C1254.17,621.33 1258.33,621.71 1262.50,622.00 C1266.67,622.29 1270.83,622.54 1275.00,622.75 C1279.17,622.96 1283.33,623.12 1287.50,623.25 C1291.67,623.38 1289.58,623.33 1300.00,623.50 C1310.42,623.67 1324.08,624.08 1350.00,624.25 C1375.92,624.42 1437.92,624.46 1455.50,624.50 L1455.50,624.50 L1141.00,624.50 Z" fill="rgba(128,128,128,0.25)"/>
<path d="M1142.00,624.50 L1455.50,624.50" fill="none" stroke="#808080" stroke-width="2.3" stroke-linecap="round"/>
<path d="M911.25,624.50 C914.38,624.42 924.79,624.29 930.00,624.00 C935.21,623.71 938.75,623.29 942.50,622.75 C946.25,622.21 949.17,621.62 952.50,620.75 C955.83,619.88 959.17,618.67 962.50,617.50 C965.83,616.33 969.17,615.00 972.50,613.75 C975.83,612.50 979.17,611.12 982.50,610.00 C985.83,608.88 989.17,607.83 992.50,607.00 C995.83,606.17 999.17,605.62 1002.50,605.00 C1005.83,604.38 1008.75,603.88 1012.50,603.25 C1016.25,602.62 1020.83,602.00 1025.00,601.25 C1029.17,600.50 1033.33,599.71 1037.50,598.75 C1041.67,597.79 1045.83,596.62 1050.00,595.50 C1054.17,594.38 1058.33,592.96 1062.50,592.00 C1066.67,591.04 1070.83,590.21 1075.00,589.75 C1079.17,589.29 1083.33,589.21 1087.50,589.25 C1091.67,589.29 1095.83,589.46 1100.00,590.00 C1104.17,590.54 1108.33,591.58 1112.50,592.50 C1116.67,593.42 1120.83,594.54 1125.00,595.50 C1129.17,596.46 1134.83,597.65 1137.50,598.25 C1140.17,598.85 1140.42,598.95 1141.00,599.09 L1141.00,624.50 L911.25,624.50 Z" fill="rgba(250,60,60,0.85)" stroke="rgb(250,60,60)" stroke-width="4.5" stroke-linejoin="round"/>
<path d="M911.25,624.50 C914.38,624.42 924.79,624.29 930.00,624.00 C935.21,623.71 938.75,623.29 942.50,622.75 C946.25,622.21 949.17,621.62 952.50,620.75 C955.83,619.88 959.17,618.67 962.50,617.50 C965.83,616.33 969.17,615.00 972.50,613.75 C975.83,612.50 979.17,611.12 982.50,610.00 C985.83,608.88 989.17,607.83 992.50,607.00 C995.83,606.17 999.17,605.62 1002.50,605.00 C1005.83,604.38 1008.75,603.88 1012.50,603.25 C1016.25,602.62 1020.83,602.00 1025.00,601.25 C1029.17,600.50 1033.33,599.71 1037.50,598.75 C1041.67,597.79 1045.83,596.62 1050.00,595.50 C1054.17,594.38 1058.33,592.96 1062.50,592.00 C1066.67,591.04 1070.83,590.21 1075.00,589.75 C1079.17,589.29 1083.33,589.21 1087.50,589.25 C1091.67,589.29 1095.83,589.46 1100.00,590.00 C1104.17,590.54 1108.33,591.58 1112.50,592.50 C1116.67,593.42 1120.83,594.54 1125.00,595.50 C1129.17,596.46 1133.33,597.29 1137.50,598.25 C1141.67,599.21 1145.83,600.25 1150.00,601.25 C1154.17,602.25 1158.33,603.21 1162.50,604.25 C1166.67,605.29 1170.83,606.33 1175.00,607.50 C1179.17,608.67 1183.33,610.08 1187.50,611.25 C1191.67,612.42 1195.83,613.54 1200.00,614.50 C1204.17,615.46 1208.33,616.29 1212.50,617.00 C1216.67,617.71 1220.83,618.25 1225.00,618.75 C1229.17,619.25 1233.33,619.62 1237.50,620.00 C1241.67,620.38 1245.83,620.67 1250.00,621.00 C1254.17,621.33 1258.33,621.71 1262.50,622.00 C1266.67,622.29 1270.83,622.54 1275.00,622.75 C1279.17,622.96 1283.33,623.12 1287.50,623.25 C1291.67,623.38 1289.58,623.33 1300.00,623.50 C1310.42,623.67 1324.08,624.08 1350.00,624.25 C1375.92,624.42 1437.92,624.46 1455.50,624.50" fill="none" stroke="#7f7f7f" stroke-width="2.5" stroke-linecap="round"/>
<polygon points="1142.00,628.24 1135.10,641.84 1148.90,641.84" fill="#2d2d2d" stroke="#3a1010" stroke-width="0.5"/>
<text x="885.00" y="607.30" font-size="20.3" text-anchor="end" font-weight="normal" fill="#111" textLength="104.6" lengthAdjust="spacingAndGlyphs" stroke="#111" stroke-width="0.3">Deep(&lt;25y)</text>
<text x="885.00" y="628.90" font-size="20.3" text-anchor="end" font-weight="normal" fill="#111" textLength="76.5" lengthAdjust="spacingAndGlyphs" stroke="#111" stroke-width="0.3">Touches</text>
<text x="1539.50" y="604.47" font-size="19.2" text-anchor="middle" font-weight="normal" fill="#111" textLength="37.4" lengthAdjust="spacingAndGlyphs" >6.51</text>
<text x="1531.30" y="626.22" font-size="19.2" text-anchor="end" font-weight="normal" fill="#111" textLength="32.5" lengthAdjust="spacingAndGlyphs" >per:</text>
<text x="1540.50" y="626.22" font-size="19.2" text-anchor="start" font-weight="normal" fill="rgb(227,37,38)" textLength="38.5" lengthAdjust="spacingAndGlyphs" >76.4</text>
<line x1="948.25" y1="671.33" x2="948.25" y2="724.93" stroke="#cbcbcb" stroke-width="1.4"/>
<text x="948.25" y="740.53" font-size="12.8" text-anchor="middle" font-weight="normal" fill="#111" textLength="8.2" lengthAdjust="spacingAndGlyphs" stroke="#111" stroke-width="0.12">0</text>
<line x1="1070.75" y1="671.33" x2="1070.75" y2="724.93" stroke="#cbcbcb" stroke-width="1.4"/>
<text x="1070.75" y="740.53" font-size="12.8" text-anchor="middle" font-weight="normal" fill="#111" textLength="8.2" lengthAdjust="spacingAndGlyphs" stroke="#111" stroke-width="0.12">5</text>
<line x1="1193.25" y1="671.33" x2="1193.25" y2="724.93" stroke="#cbcbcb" stroke-width="1.4"/>
<text x="1193.25" y="740.53" font-size="12.8" text-anchor="middle" font-weight="normal" fill="#111" textLength="14.5" lengthAdjust="spacingAndGlyphs" stroke="#111" stroke-width="0.12">10</text>
<line x1="1315.75" y1="671.33" x2="1315.75" y2="724.93" stroke="#cbcbcb" stroke-width="1.4"/>
<text x="1315.75" y="740.53" font-size="12.8" text-anchor="middle" font-weight="normal" fill="#111" textLength="14.5" lengthAdjust="spacingAndGlyphs" stroke="#111" stroke-width="0.12">15</text>
<line x1="1438.25" y1="671.33" x2="1438.25" y2="724.93" stroke="#cbcbcb" stroke-width="1.4"/>
<text x="1438.25" y="740.53" font-size="12.8" text-anchor="middle" font-weight="normal" fill="#111" textLength="14.5" lengthAdjust="spacingAndGlyphs" stroke="#111" stroke-width="0.12">20</text>
<defs><clipPath id="cl7"><rect x="905.25" y="661.33" width="210.25" height="80"/></clipPath><clipPath id="cr7"><rect x="1115.50" y="661.33" width="346.00" height="80"/></clipPath></defs>
<path d="M1115.50,689.65 C1116.25,689.88 1117.58,690.23 1120.00,691.00 C1122.42,691.77 1126.67,693.29 1130.00,694.25 C1133.33,695.21 1136.67,696.04 1140.00,696.75 C1143.33,697.46 1146.25,697.96 1150.00,698.50 C1153.75,699.04 1158.33,699.46 1162.50,700.00 C1166.67,700.54 1170.83,701.21 1175.00,701.75 C1179.17,702.29 1183.33,702.79 1187.50,703.25 C1191.67,703.71 1195.83,704.12 1200.00,704.50 C1204.17,704.88 1208.33,705.21 1212.50,705.50 C1216.67,705.79 1218.75,706.00 1225.00,706.25 C1231.25,706.50 1241.67,706.79 1250.00,707.00 C1258.33,707.21 1266.67,707.38 1275.00,707.50 C1283.33,707.62 1269.92,707.67 1300.00,707.75 C1330.08,707.83 1429.58,707.96 1455.50,708.00 L1455.50,708.00 L1115.50,708.00 Z" fill="rgba(128,128,128,0.25)"/>
<path d="M1116.50,708.00 L1455.50,708.00" fill="none" stroke="#808080" stroke-width="2.3" stroke-linecap="round"/>
<path d="M911.25,708.00 C915.62,707.92 931.04,707.71 937.50,707.50 C943.96,707.29 946.25,707.17 950.00,706.75 C953.75,706.33 956.67,705.92 960.00,705.00 C963.33,704.08 966.67,702.83 970.00,701.25 C973.33,699.67 976.67,697.50 980.00,695.50 C983.33,693.50 986.67,691.25 990.00,689.25 C993.33,687.25 996.67,685.25 1000.00,683.50 C1003.33,681.75 1006.67,680.08 1010.00,678.75 C1013.33,677.42 1016.67,676.38 1020.00,675.50 C1023.33,674.62 1026.67,673.92 1030.00,673.50 C1033.33,673.08 1036.67,673.08 1040.00,673.00 C1043.33,672.92 1046.67,672.92 1050.00,673.00 C1053.33,673.08 1056.67,673.17 1060.00,673.50 C1063.33,673.83 1066.67,674.25 1070.00,675.00 C1073.33,675.75 1076.67,676.88 1080.00,678.00 C1083.33,679.12 1086.67,680.58 1090.00,681.75 C1093.33,682.92 1096.67,683.96 1100.00,685.00 C1103.33,686.04 1107.42,687.23 1110.00,688.00 C1112.58,688.77 1114.58,689.38 1115.50,689.65 L1115.50,708.00 L911.25,708.00 Z" fill="rgba(250,47,47,0.85)" stroke="rgb(250,47,47)" stroke-width="4.5" stroke-linejoin="round"/>
<path d="M911.25,708.00 C915.62,707.92 931.04,707.71 937.50,707.50 C943.96,707.29 946.25,707.17 950.00,706.75 C953.75,706.33 956.67,705.92 960.00,705.00 C963.33,704.08 966.67,702.83 970.00,701.25 C973.33,699.67 976.67,697.50 980.00,695.50 C983.33,693.50 986.67,691.25 990.00,689.25 C993.33,687.25 996.67,685.25 1000.00,683.50 C1003.33,681.75 1006.67,680.08 1010.00,678.75 C1013.33,677.42 1016.67,676.38 1020.00,675.50 C1023.33,674.62 1026.67,673.92 1030.00,673.50 C1033.33,673.08 1036.67,673.08 1040.00,673.00 C1043.33,672.92 1046.67,672.92 1050.00,673.00 C1053.33,673.08 1056.67,673.17 1060.00,673.50 C1063.33,673.83 1066.67,674.25 1070.00,675.00 C1073.33,675.75 1076.67,676.88 1080.00,678.00 C1083.33,679.12 1086.67,680.58 1090.00,681.75 C1093.33,682.92 1096.67,683.96 1100.00,685.00 C1103.33,686.04 1106.67,687.00 1110.00,688.00 C1113.33,689.00 1116.67,689.96 1120.00,691.00 C1123.33,692.04 1126.67,693.29 1130.00,694.25 C1133.33,695.21 1136.67,696.04 1140.00,696.75 C1143.33,697.46 1146.25,697.96 1150.00,698.50 C1153.75,699.04 1158.33,699.46 1162.50,700.00 C1166.67,700.54 1170.83,701.21 1175.00,701.75 C1179.17,702.29 1183.33,702.79 1187.50,703.25 C1191.67,703.71 1195.83,704.12 1200.00,704.50 C1204.17,704.88 1208.33,705.21 1212.50,705.50 C1216.67,705.79 1218.75,706.00 1225.00,706.25 C1231.25,706.50 1241.67,706.79 1250.00,707.00 C1258.33,707.21 1266.67,707.38 1275.00,707.50 C1283.33,707.62 1269.92,707.67 1300.00,707.75 C1330.08,707.83 1429.58,707.96 1455.50,708.00" fill="none" stroke="#7f7f7f" stroke-width="2.5" stroke-linecap="round"/>
<polygon points="1116.50,711.33 1109.60,724.93 1123.40,724.93" fill="#2d2d2d" stroke="#3a1010" stroke-width="0.5"/>
<text x="885.00" y="690.05" font-size="20.3" text-anchor="end" font-weight="normal" fill="#111" textLength="106.5" lengthAdjust="spacingAndGlyphs" stroke="#111" stroke-width="0.3">Progressive</text>
<text x="885.00" y="711.65" font-size="20.3" text-anchor="end" font-weight="normal" fill="#111" textLength="62.9" lengthAdjust="spacingAndGlyphs" stroke="#111" stroke-width="0.3">Carries</text>
<text x="1539.50" y="687.09" font-size="19.2" text-anchor="middle" font-weight="normal" fill="#111" textLength="37.4" lengthAdjust="spacingAndGlyphs" >6.88</text>
<text x="1531.30" y="708.84" font-size="19.2" text-anchor="end" font-weight="normal" fill="#111" textLength="32.5" lengthAdjust="spacingAndGlyphs" >per:</text>
<text x="1540.50" y="708.84" font-size="19.2" text-anchor="start" font-weight="normal" fill="rgb(233,31,32)" textLength="38.5" lengthAdjust="spacingAndGlyphs" >81.5</text>
<line x1="946.25" y1="754.42" x2="946.25" y2="808.02" stroke="#cbcbcb" stroke-width="1.4"/>
<text x="946.25" y="823.62" font-size="12.8" text-anchor="middle" font-weight="normal" fill="#111" textLength="8.2" lengthAdjust="spacingAndGlyphs" stroke="#111" stroke-width="0.12">0</text>
<line x1="1013.00" y1="754.42" x2="1013.00" y2="808.02" stroke="#cbcbcb" stroke-width="1.4"/>
<text x="1013.00" y="823.62" font-size="12.8" text-anchor="middle" font-weight="normal" fill="#111" textLength="8.2" lengthAdjust="spacingAndGlyphs" stroke="#111" stroke-width="0.12">1</text>
<line x1="1079.75" y1="754.42" x2="1079.75" y2="808.02" stroke="#cbcbcb" stroke-width="1.4"/>
<text x="1079.75" y="823.62" font-size="12.8" text-anchor="middle" font-weight="normal" fill="#111" textLength="8.2" lengthAdjust="spacingAndGlyphs" stroke="#111" stroke-width="0.12">2</text>
<line x1="1146.75" y1="754.42" x2="1146.75" y2="808.02" stroke="#cbcbcb" stroke-width="1.4"/>
<text x="1146.75" y="823.62" font-size="12.8" text-anchor="middle" font-weight="normal" fill="#111" textLength="8.2" lengthAdjust="spacingAndGlyphs" stroke="#111" stroke-width="0.12">3</text>
<line x1="1213.50" y1="754.42" x2="1213.50" y2="808.02" stroke="#cbcbcb" stroke-width="1.4"/>
<text x="1213.50" y="823.62" font-size="12.8" text-anchor="middle" font-weight="normal" fill="#111" textLength="8.2" lengthAdjust="spacingAndGlyphs" stroke="#111" stroke-width="0.12">4</text>
<line x1="1280.25" y1="754.42" x2="1280.25" y2="808.02" stroke="#cbcbcb" stroke-width="1.4"/>
<text x="1280.25" y="823.62" font-size="12.8" text-anchor="middle" font-weight="normal" fill="#111" textLength="8.2" lengthAdjust="spacingAndGlyphs" stroke="#111" stroke-width="0.12">5</text>
<line x1="1347.00" y1="754.42" x2="1347.00" y2="808.02" stroke="#cbcbcb" stroke-width="1.4"/>
<text x="1347.00" y="823.62" font-size="12.8" text-anchor="middle" font-weight="normal" fill="#111" textLength="8.2" lengthAdjust="spacingAndGlyphs" stroke="#111" stroke-width="0.12">6</text>
<line x1="1413.75" y1="754.42" x2="1413.75" y2="808.02" stroke="#cbcbcb" stroke-width="1.4"/>
<text x="1413.75" y="823.62" font-size="12.8" text-anchor="middle" font-weight="normal" fill="#111" textLength="8.2" lengthAdjust="spacingAndGlyphs" stroke="#111" stroke-width="0.12">7</text>
<line x1="1480.50" y1="754.42" x2="1480.50" y2="808.02" stroke="#cbcbcb" stroke-width="1.4"/>
<text x="1480.50" y="823.62" font-size="12.8" text-anchor="middle" font-weight="normal" fill="#111" textLength="8.2" lengthAdjust="spacingAndGlyphs" stroke="#111" stroke-width="0.12">8</text>
<defs><clipPath id="cl8"><rect x="905.25" y="744.42" width="189.00" height="80"/></clipPath><clipPath id="cr8"><rect x="1094.25" y="744.42" width="367.25" height="80"/></clipPath></defs>
<path d="M1094.25,780.69 C1094.79,780.87 1095.29,781.07 1097.50,781.75 C1099.71,782.43 1104.17,783.83 1107.50,784.75 C1110.83,785.67 1114.17,786.50 1117.50,787.25 C1120.83,788.00 1124.17,788.67 1127.50,789.25 C1130.83,789.83 1133.75,790.25 1137.50,790.75 C1141.25,791.25 1145.83,791.83 1150.00,792.25 C1154.17,792.67 1158.33,792.92 1162.50,793.25 C1166.67,793.58 1168.75,793.88 1175.00,794.25 C1181.25,794.62 1191.67,795.21 1200.00,795.50 C1208.33,795.79 1214.58,795.83 1225.00,796.00 C1235.42,796.17 1250.00,796.40 1262.50,796.50 C1275.00,796.60 1267.83,796.58 1300.00,796.62 C1332.17,796.67 1429.58,796.73 1455.50,796.75 L1455.50,796.75 L1094.25,796.75 Z" fill="rgba(128,128,128,0.25)"/>
<path d="M1095.25,796.75 L1455.50,796.75" fill="none" stroke="#808080" stroke-width="2.3" stroke-linecap="round"/>
<path d="M911.25,796.75 C913.54,796.67 921.04,796.58 925.00,796.25 C928.96,795.92 931.67,795.54 935.00,794.75 C938.33,793.96 942.08,792.75 945.00,791.50 C947.92,790.25 950.00,789.00 952.50,787.25 C955.00,785.50 957.50,783.29 960.00,781.00 C962.50,778.71 965.00,775.79 967.50,773.50 C970.00,771.21 972.50,769.12 975.00,767.25 C977.50,765.38 980.00,763.71 982.50,762.25 C985.00,760.79 987.50,759.46 990.00,758.50 C992.50,757.54 994.58,756.92 997.50,756.50 C1000.42,756.08 1004.17,756.00 1007.50,756.00 C1010.83,756.00 1014.17,756.08 1017.50,756.50 C1020.83,756.92 1024.17,757.75 1027.50,758.50 C1030.83,759.25 1034.17,760.08 1037.50,761.00 C1040.83,761.92 1044.17,762.96 1047.50,764.00 C1050.83,765.04 1054.17,766.08 1057.50,767.25 C1060.83,768.42 1064.17,769.75 1067.50,771.00 C1070.83,772.25 1074.17,773.50 1077.50,774.75 C1080.83,776.00 1084.71,777.51 1087.50,778.50 C1090.29,779.49 1093.12,780.33 1094.25,780.69 L1094.25,796.75 L911.25,796.75 Z" fill="rgba(250,33,33,0.85)" stroke="rgb(250,33,33)" stroke-width="4.5" stroke-linejoin="round"/>
<path d="M911.25,796.75 C913.54,796.67 921.04,796.58 925.00,796.25 C928.96,795.92 931.67,795.54 935.00,794.75 C938.33,793.96 942.08,792.75 945.00,791.50 C947.92,790.25 950.00,789.00 952.50,787.25 C955.00,785.50 957.50,783.29 960.00,781.00 C962.50,778.71 965.00,775.79 967.50,773.50 C970.00,771.21 972.50,769.12 975.00,767.25 C977.50,765.38 980.00,763.71 982.50,762.25 C985.00,760.79 987.50,759.46 990.00,758.50 C992.50,757.54 994.58,756.92 997.50,756.50 C1000.42,756.08 1004.17,756.00 1007.50,756.00 C1010.83,756.00 1014.17,756.08 1017.50,756.50 C1020.83,756.92 1024.17,757.75 1027.50,758.50 C1030.83,759.25 1034.17,760.08 1037.50,761.00 C1040.83,761.92 1044.17,762.96 1047.50,764.00 C1050.83,765.04 1054.17,766.08 1057.50,767.25 C1060.83,768.42 1064.17,769.75 1067.50,771.00 C1070.83,772.25 1074.17,773.50 1077.50,774.75 C1080.83,776.00 1084.17,777.33 1087.50,778.50 C1090.83,779.67 1094.17,780.71 1097.50,781.75 C1100.83,782.79 1104.17,783.83 1107.50,784.75 C1110.83,785.67 1114.17,786.50 1117.50,787.25 C1120.83,788.00 1124.17,788.67 1127.50,789.25 C1130.83,789.83 1133.75,790.25 1137.50,790.75 C1141.25,791.25 1145.83,791.83 1150.00,792.25 C1154.17,792.67 1158.33,792.92 1162.50,793.25 C1166.67,793.58 1168.75,793.88 1175.00,794.25 C1181.25,794.62 1191.67,795.21 1200.00,795.50 C1208.33,795.79 1214.58,795.83 1225.00,796.00 C1235.42,796.17 1250.00,796.40 1262.50,796.50 C1275.00,796.60 1267.83,796.58 1300.00,796.62 C1332.17,796.67 1429.58,796.73 1455.50,796.75" fill="none" stroke="#7f7f7f" stroke-width="2.5" stroke-linecap="round"/>
<polygon points="1095.25,794.42 1088.35,808.02 1102.15,808.02" fill="#2d2d2d" stroke="#3a1010" stroke-width="0.5"/>
<text x="885.00" y="772.80" font-size="20.3" text-anchor="end" font-weight="normal" fill="#111" textLength="76.9" lengthAdjust="spacingAndGlyphs" stroke="#111" stroke-width="0.3">Dribbles</text>
<text x="885.00" y="794.40" font-size="20.3" text-anchor="end" font-weight="normal" fill="#111" textLength="100.3" lengthAdjust="spacingAndGlyphs" stroke="#111" stroke-width="0.3">Completed</text>
<text x="1539.50" y="769.71" font-size="19.2" text-anchor="middle" font-weight="normal" fill="#111" textLength="37.4" lengthAdjust="spacingAndGlyphs" >2.23</text>
<text x="1531.30" y="791.46" font-size="19.2" text-anchor="end" font-weight="normal" fill="#111" textLength="32.5" lengthAdjust="spacingAndGlyphs" >per:</text>
<text x="1540.50" y="791.46" font-size="19.2" text-anchor="start" font-weight="normal" fill="rgb(239,25,26)" textLength="38.5" lengthAdjust="spacingAndGlyphs" >86.9</text>
<line x1="947.25" y1="837.51" x2="947.25" y2="891.11" stroke="#cbcbcb" stroke-width="1.4"/>
<text x="947.25" y="906.71" font-size="12.8" text-anchor="middle" font-weight="normal" fill="#111" textLength="20.6" lengthAdjust="spacingAndGlyphs" stroke="#111" stroke-width="0.12">0.0</text>
<line x1="1023.50" y1="837.51" x2="1023.50" y2="891.11" stroke="#cbcbcb" stroke-width="1.4"/>
<text x="1023.50" y="906.71" font-size="12.8" text-anchor="middle" font-weight="normal" fill="#111" textLength="20.6" lengthAdjust="spacingAndGlyphs" stroke="#111" stroke-width="0.12">0.1</text>
<line x1="1099.75" y1="837.51" x2="1099.75" y2="891.11" stroke="#cbcbcb" stroke-width="1.4"/>
<text x="1099.75" y="906.71" font-size="12.8" text-anchor="middle" font-weight="normal" fill="#111" textLength="20.6" lengthAdjust="spacingAndGlyphs" stroke="#111" stroke-width="0.12">0.2</text>
<line x1="1176.25" y1="837.51" x2="1176.25" y2="891.11" stroke="#cbcbcb" stroke-width="1.4"/>
<text x="1176.25" y="906.71" font-size="12.8" text-anchor="middle" font-weight="normal" fill="#111" textLength="20.6" lengthAdjust="spacingAndGlyphs" stroke="#111" stroke-width="0.12">0.3</text>
<line x1="1252.75" y1="837.51" x2="1252.75" y2="891.11" stroke="#cbcbcb" stroke-width="1.4"/>
<text x="1252.75" y="906.71" font-size="12.8" text-anchor="middle" font-weight="normal" fill="#111" textLength="20.6" lengthAdjust="spacingAndGlyphs" stroke="#111" stroke-width="0.12">0.4</text>
<line x1="1329.00" y1="837.51" x2="1329.00" y2="891.11" stroke="#cbcbcb" stroke-width="1.4"/>
<text x="1329.00" y="906.71" font-size="12.8" text-anchor="middle" font-weight="normal" fill="#111" textLength="20.6" lengthAdjust="spacingAndGlyphs" stroke="#111" stroke-width="0.12">0.5</text>
<line x1="1405.50" y1="837.51" x2="1405.50" y2="891.11" stroke="#cbcbcb" stroke-width="1.4"/>
<text x="1405.50" y="906.71" font-size="12.8" text-anchor="middle" font-weight="normal" fill="#111" textLength="20.6" lengthAdjust="spacingAndGlyphs" stroke="#111" stroke-width="0.12">0.6</text>
<defs><clipPath id="cl9"><rect x="905.25" y="827.51" width="240.00" height="80"/></clipPath><clipPath id="cr9"><rect x="1145.25" y="827.51" width="316.25" height="80"/></clipPath></defs>
<path d="M1145.25,873.68 C1146.04,873.86 1147.12,874.20 1150.00,874.75 C1152.88,875.30 1158.33,876.38 1162.50,877.00 C1166.67,877.62 1170.83,878.08 1175.00,878.50 C1179.17,878.92 1183.33,879.21 1187.50,879.50 C1191.67,879.79 1193.75,880.00 1200.00,880.25 C1206.25,880.50 1216.67,880.83 1225.00,881.00 C1233.33,881.17 1237.50,881.17 1250.00,881.25 C1262.50,881.33 1265.75,881.46 1300.00,881.50 C1334.25,881.54 1429.58,881.50 1455.50,881.50 L1455.50,881.50 L1145.25,881.50 Z" fill="rgba(128,128,128,0.25)"/>
<path d="M1146.25,881.50 L1455.50,881.50" fill="none" stroke="#808080" stroke-width="2.3" stroke-linecap="round"/>
<path d="M911.25,881.50 C913.54,881.42 921.04,881.33 925.00,881.00 C928.96,880.67 931.67,880.25 935.00,879.50 C938.33,878.75 941.67,877.83 945.00,876.50 C948.33,875.17 951.67,873.58 955.00,871.50 C958.33,869.42 961.67,866.58 965.00,864.00 C968.33,861.42 971.67,858.50 975.00,856.00 C978.33,853.50 981.67,851.00 985.00,849.00 C988.33,847.00 991.67,845.33 995.00,844.00 C998.33,842.67 1001.67,841.75 1005.00,841.00 C1008.33,840.25 1011.67,839.71 1015.00,839.50 C1018.33,839.29 1022.08,839.33 1025.00,839.75 C1027.92,840.17 1030.00,841.21 1032.50,842.00 C1035.00,842.79 1037.08,843.67 1040.00,844.50 C1042.92,845.33 1046.67,846.29 1050.00,847.00 C1053.33,847.71 1056.67,848.08 1060.00,848.75 C1063.33,849.42 1066.67,850.04 1070.00,851.00 C1073.33,851.96 1076.67,853.25 1080.00,854.50 C1083.33,855.75 1086.67,857.21 1090.00,858.50 C1093.33,859.79 1096.67,861.12 1100.00,862.25 C1103.33,863.38 1106.67,864.29 1110.00,865.25 C1113.33,866.21 1116.67,867.12 1120.00,868.00 C1123.33,868.88 1126.67,869.75 1130.00,870.50 C1133.33,871.25 1137.46,871.97 1140.00,872.50 C1142.54,873.03 1144.38,873.48 1145.25,873.68 L1145.25,881.50 L911.25,881.50 Z" fill="rgba(250,15,15,0.85)" stroke="rgb(250,15,15)" stroke-width="4.5" stroke-linejoin="round"/>
<path d="M911.25,881.50 C913.54,881.42 921.04,881.33 925.00,881.00 C928.96,880.67 931.67,880.25 935.00,879.50 C938.33,878.75 941.67,877.83 945.00,876.50 C948.33,875.17 951.67,873.58 955.00,871.50 C958.33,869.42 961.67,866.58 965.00,864.00 C968.33,861.42 971.67,858.50 975.00,856.00 C978.33,853.50 981.67,851.00 985.00,849.00 C988.33,847.00 991.67,845.33 995.00,844.00 C998.33,842.67 1001.67,841.75 1005.00,841.00 C1008.33,840.25 1011.67,839.71 1015.00,839.50 C1018.33,839.29 1022.08,839.33 1025.00,839.75 C1027.92,840.17 1030.00,841.21 1032.50,842.00 C1035.00,842.79 1037.08,843.67 1040.00,844.50 C1042.92,845.33 1046.67,846.29 1050.00,847.00 C1053.33,847.71 1056.67,848.08 1060.00,848.75 C1063.33,849.42 1066.67,850.04 1070.00,851.00 C1073.33,851.96 1076.67,853.25 1080.00,854.50 C1083.33,855.75 1086.67,857.21 1090.00,858.50 C1093.33,859.79 1096.67,861.12 1100.00,862.25 C1103.33,863.38 1106.67,864.29 1110.00,865.25 C1113.33,866.21 1116.67,867.12 1120.00,868.00 C1123.33,868.88 1126.67,869.75 1130.00,870.50 C1133.33,871.25 1136.67,871.79 1140.00,872.50 C1143.33,873.21 1146.25,874.00 1150.00,874.75 C1153.75,875.50 1158.33,876.38 1162.50,877.00 C1166.67,877.62 1170.83,878.08 1175.00,878.50 C1179.17,878.92 1183.33,879.21 1187.50,879.50 C1191.67,879.79 1193.75,880.00 1200.00,880.25 C1206.25,880.50 1216.67,880.83 1225.00,881.00 C1233.33,881.17 1237.50,881.17 1250.00,881.25 C1262.50,881.33 1265.75,881.46 1300.00,881.50 C1334.25,881.54 1429.58,881.50 1455.50,881.50" fill="none" stroke="#7f7f7f" stroke-width="2.5" stroke-linecap="round"/>
<polygon points="1146.25,877.51 1139.35,891.11 1153.15,891.11" fill="#2d2d2d" stroke="#3a1010" stroke-width="0.5"/>
<text x="885.00" y="855.55" font-size="20.3" text-anchor="end" font-weight="normal" fill="#111" textLength="91.9" lengthAdjust="spacingAndGlyphs" stroke="#111" stroke-width="0.3">Open Play</text>
<text x="885.00" y="877.15" font-size="20.3" text-anchor="end" font-weight="normal" fill="#111" textLength="21.2" lengthAdjust="spacingAndGlyphs" stroke="#111" stroke-width="0.3">xA</text>
<text x="1539.50" y="852.33" font-size="19.2" text-anchor="middle" font-weight="normal" fill="#111" textLength="37.4" lengthAdjust="spacingAndGlyphs" >0.26</text>
<text x="1531.30" y="874.08" font-size="19.2" text-anchor="end" font-weight="normal" fill="#111" textLength="32.5" lengthAdjust="spacingAndGlyphs" >per:</text>
<text x="1540.50" y="874.08" font-size="19.2" text-anchor="start" font-weight="normal" fill="rgb(248,16,18)" textLength="38.5" lengthAdjust="spacingAndGlyphs" >94.3</text>
<line x1="939.25" y1="920.60" x2="939.25" y2="974.20" stroke="#cbcbcb" stroke-width="1.4"/>
<text x="939.25" y="989.80" font-size="12.8" text-anchor="middle" font-weight="normal" fill="#111" textLength="8.2" lengthAdjust="spacingAndGlyphs" stroke="#111" stroke-width="0.12">0</text>
<line x1="1033.25" y1="920.60" x2="1033.25" y2="974.20" stroke="#cbcbcb" stroke-width="1.4"/>
<text x="1033.25" y="989.80" font-size="12.8" text-anchor="middle" font-weight="normal" fill="#111" textLength="8.2" lengthAdjust="spacingAndGlyphs" stroke="#111" stroke-width="0.12">2</text>
<line x1="1127.00" y1="920.60" x2="1127.00" y2="974.20" stroke="#cbcbcb" stroke-width="1.4"/>
<text x="1127.00" y="989.80" font-size="12.8" text-anchor="middle" font-weight="normal" fill="#111" textLength="8.2" lengthAdjust="spacingAndGlyphs" stroke="#111" stroke-width="0.12">4</text>
<line x1="1221.00" y1="920.60" x2="1221.00" y2="974.20" stroke="#cbcbcb" stroke-width="1.4"/>
<text x="1221.00" y="989.80" font-size="12.8" text-anchor="middle" font-weight="normal" fill="#111" textLength="8.2" lengthAdjust="spacingAndGlyphs" stroke="#111" stroke-width="0.12">6</text>
<line x1="1315.00" y1="920.60" x2="1315.00" y2="974.20" stroke="#cbcbcb" stroke-width="1.4"/>
<text x="1315.00" y="989.80" font-size="12.8" text-anchor="middle" font-weight="normal" fill="#111" textLength="8.2" lengthAdjust="spacingAndGlyphs" stroke="#111" stroke-width="0.12">8</text>
<line x1="1409.00" y1="920.60" x2="1409.00" y2="974.20" stroke="#cbcbcb" stroke-width="1.4"/>
<text x="1409.00" y="989.80" font-size="12.8" text-anchor="middle" font-weight="normal" fill="#111" textLength="14.5" lengthAdjust="spacingAndGlyphs" stroke="#111" stroke-width="0.12">10</text>
<defs><clipPath id="cl10"><rect x="905.25" y="910.60" width="155.50" height="80"/></clipPath><clipPath id="cr10"><rect x="1060.75" y="910.60" width="400.75" height="80"/></clipPath></defs>
<path d="M1060.75,922.15 C1062.29,922.46 1066.79,923.27 1070.00,924.00 C1073.21,924.73 1076.67,925.71 1080.00,926.50 C1083.33,927.29 1086.67,928.08 1090.00,928.75 C1093.33,929.42 1096.67,929.88 1100.00,930.50 C1103.33,931.12 1106.67,931.62 1110.00,932.50 C1113.33,933.38 1116.67,934.67 1120.00,935.75 C1123.33,936.83 1126.67,937.96 1130.00,939.00 C1133.33,940.04 1136.67,941.08 1140.00,942.00 C1143.33,942.92 1146.67,943.58 1150.00,944.50 C1153.33,945.42 1156.67,946.50 1160.00,947.50 C1163.33,948.50 1166.67,949.62 1170.00,950.50 C1173.33,951.38 1176.67,952.04 1180.00,952.75 C1183.33,953.46 1186.67,954.12 1190.00,954.75 C1193.33,955.38 1196.67,955.92 1200.00,956.50 C1203.33,957.08 1206.67,957.79 1210.00,958.25 C1213.33,958.71 1215.42,958.92 1220.00,959.25 C1224.58,959.58 1230.42,959.88 1237.50,960.25 C1244.58,960.62 1252.08,961.17 1262.50,961.50 C1272.92,961.83 1285.42,962.06 1300.00,962.25 C1314.58,962.44 1324.08,962.54 1350.00,962.62 C1375.92,962.71 1437.92,962.73 1455.50,962.75 L1455.50,962.75 L1060.75,962.75 Z" fill="rgba(128,128,128,0.25)"/>
<path d="M1061.75,962.75 L1455.50,962.75" fill="none" stroke="#808080" stroke-width="2.3" stroke-linecap="round"/>
<path d="M911.25,962.75 C915.62,962.62 931.04,962.33 937.50,962.00 C943.96,961.67 946.25,961.38 950.00,960.75 C953.75,960.12 956.67,959.29 960.00,958.25 C963.33,957.21 966.67,955.96 970.00,954.50 C973.33,953.04 976.67,951.25 980.00,949.50 C983.33,947.75 986.67,945.79 990.00,944.00 C993.33,942.21 996.67,940.25 1000.00,938.75 C1003.33,937.25 1006.67,936.21 1010.00,935.00 C1013.33,933.79 1016.67,932.71 1020.00,931.50 C1023.33,930.29 1026.67,929.00 1030.00,927.75 C1033.33,926.50 1036.67,924.92 1040.00,924.00 C1043.33,923.08 1046.67,922.58 1050.00,922.25 C1053.33,921.92 1058.21,922.02 1060.00,922.00 C1061.79,921.98 1060.62,922.12 1060.75,922.15 L1060.75,962.75 L911.25,962.75 Z" fill="rgba(250,139,139,0.85)" stroke="rgb(250,139,139)" stroke-width="4.5" stroke-linejoin="round"/>
<path d="M911.25,962.75 C915.62,962.62 931.04,962.33 937.50,962.00 C943.96,961.67 946.25,961.38 950.00,960.75 C953.75,960.12 956.67,959.29 960.00,958.25 C963.33,957.21 966.67,955.96 970.00,954.50 C973.33,953.04 976.67,951.25 980.00,949.50 C983.33,947.75 986.67,945.79 990.00,944.00 C993.33,942.21 996.67,940.25 1000.00,938.75 C1003.33,937.25 1006.67,936.21 1010.00,935.00 C1013.33,933.79 1016.67,932.71 1020.00,931.50 C1023.33,930.29 1026.67,929.00 1030.00,927.75 C1033.33,926.50 1036.67,924.92 1040.00,924.00 C1043.33,923.08 1046.67,922.58 1050.00,922.25 C1053.33,921.92 1056.67,921.71 1060.00,922.00 C1063.33,922.29 1066.67,923.25 1070.00,924.00 C1073.33,924.75 1076.67,925.71 1080.00,926.50 C1083.33,927.29 1086.67,928.08 1090.00,928.75 C1093.33,929.42 1096.67,929.88 1100.00,930.50 C1103.33,931.12 1106.67,931.62 1110.00,932.50 C1113.33,933.38 1116.67,934.67 1120.00,935.75 C1123.33,936.83 1126.67,937.96 1130.00,939.00 C1133.33,940.04 1136.67,941.08 1140.00,942.00 C1143.33,942.92 1146.67,943.58 1150.00,944.50 C1153.33,945.42 1156.67,946.50 1160.00,947.50 C1163.33,948.50 1166.67,949.62 1170.00,950.50 C1173.33,951.38 1176.67,952.04 1180.00,952.75 C1183.33,953.46 1186.67,954.12 1190.00,954.75 C1193.33,955.38 1196.67,955.92 1200.00,956.50 C1203.33,957.08 1206.67,957.79 1210.00,958.25 C1213.33,958.71 1215.42,958.92 1220.00,959.25 C1224.58,959.58 1230.42,959.88 1237.50,960.25 C1244.58,960.62 1252.08,961.17 1262.50,961.50 C1272.92,961.83 1285.42,962.06 1300.00,962.25 C1314.58,962.44 1324.08,962.54 1350.00,962.62 C1375.92,962.71 1437.92,962.73 1455.50,962.75" fill="none" stroke="#7f7f7f" stroke-width="2.5" stroke-linecap="round"/>
<polygon points="1061.75,960.60 1054.85,974.20 1068.65,974.20" fill="#2d2d2d" stroke="#3a1010" stroke-width="0.5"/>
<text x="885.00" y="938.30" font-size="20.3" text-anchor="end" font-weight="normal" fill="#111" textLength="106.5" lengthAdjust="spacingAndGlyphs" stroke="#111" stroke-width="0.3">Progressive</text>
<text x="885.00" y="959.90" font-size="20.3" text-anchor="end" font-weight="normal" fill="#111" textLength="63.3" lengthAdjust="spacingAndGlyphs" stroke="#111" stroke-width="0.3">Passes</text>
<text x="1539.50" y="934.95" font-size="19.2" text-anchor="middle" font-weight="normal" fill="#111" textLength="26.7" lengthAdjust="spacingAndGlyphs" >2.6</text>
<text x="1531.30" y="956.70" font-size="19.2" text-anchor="end" font-weight="normal" fill="#111" textLength="32.5" lengthAdjust="spacingAndGlyphs" >per:</text>
<text x="1540.50" y="956.70" font-size="19.2" text-anchor="start" font-weight="normal" fill="rgb(191,73,73)" textLength="38.5" lengthAdjust="spacingAndGlyphs" >45.5</text>
<line x1="954.50" y1="1003.69" x2="954.50" y2="1057.29" stroke="#cbcbcb" stroke-width="1.4"/>
<text x="954.50" y="1072.89" font-size="12.8" text-anchor="middle" font-weight="normal" fill="#111" textLength="8.2" lengthAdjust="spacingAndGlyphs" stroke="#111" stroke-width="0.12">0</text>
<line x1="1026.50" y1="1003.69" x2="1026.50" y2="1057.29" stroke="#cbcbcb" stroke-width="1.4"/>
<text x="1026.50" y="1072.89" font-size="12.8" text-anchor="middle" font-weight="normal" fill="#111" textLength="8.2" lengthAdjust="spacingAndGlyphs" stroke="#111" stroke-width="0.12">2</text>
<line x1="1098.50" y1="1003.69" x2="1098.50" y2="1057.29" stroke="#cbcbcb" stroke-width="1.4"/>
<text x="1098.50" y="1072.89" font-size="12.8" text-anchor="middle" font-weight="normal" fill="#111" textLength="8.2" lengthAdjust="spacingAndGlyphs" stroke="#111" stroke-width="0.12">4</text>
<line x1="1170.50" y1="1003.69" x2="1170.50" y2="1057.29" stroke="#cbcbcb" stroke-width="1.4"/>
<text x="1170.50" y="1072.89" font-size="12.8" text-anchor="middle" font-weight="normal" fill="#111" textLength="8.2" lengthAdjust="spacingAndGlyphs" stroke="#111" stroke-width="0.12">6</text>
<line x1="1242.50" y1="1003.69" x2="1242.50" y2="1057.29" stroke="#cbcbcb" stroke-width="1.4"/>
<text x="1242.50" y="1072.89" font-size="12.8" text-anchor="middle" font-weight="normal" fill="#111" textLength="8.2" lengthAdjust="spacingAndGlyphs" stroke="#111" stroke-width="0.12">8</text>
<line x1="1314.50" y1="1003.69" x2="1314.50" y2="1057.29" stroke="#cbcbcb" stroke-width="1.4"/>
<text x="1314.50" y="1072.89" font-size="12.8" text-anchor="middle" font-weight="normal" fill="#111" textLength="14.5" lengthAdjust="spacingAndGlyphs" stroke="#111" stroke-width="0.12">10</text>
<line x1="1386.50" y1="1003.69" x2="1386.50" y2="1057.29" stroke="#cbcbcb" stroke-width="1.4"/>
<text x="1386.50" y="1072.89" font-size="12.8" text-anchor="middle" font-weight="normal" fill="#111" textLength="14.5" lengthAdjust="spacingAndGlyphs" stroke="#111" stroke-width="0.12">12</text>
<line x1="1458.50" y1="1003.69" x2="1458.50" y2="1057.29" stroke="#cbcbcb" stroke-width="1.4"/>
<text x="1458.50" y="1072.89" font-size="12.8" text-anchor="middle" font-weight="normal" fill="#111" textLength="14.5" lengthAdjust="spacingAndGlyphs" stroke="#111" stroke-width="0.12">14</text>
<defs><clipPath id="cl11"><rect x="905.25" y="993.69" width="360.00" height="80"/></clipPath><clipPath id="cr11"><rect x="1265.25" y="993.69" width="196.25" height="80"/></clipPath></defs>
<path d="M1265.25,1037.46 C1265.42,1037.46 1262.54,1037.16 1266.25,1037.50 C1269.96,1037.84 1279.79,1038.92 1287.50,1039.50 C1295.21,1040.08 1304.17,1040.58 1312.50,1041.00 C1320.83,1041.42 1327.08,1041.75 1337.50,1042.00 C1347.92,1042.25 1355.33,1042.38 1375.00,1042.50 C1394.67,1042.62 1442.08,1042.71 1455.50,1042.75 L1455.50,1042.75 L1265.25,1042.75 Z" fill="rgba(128,128,128,0.25)"/>
<path d="M1266.25,1042.75 L1455.50,1042.75" fill="none" stroke="#808080" stroke-width="2.3" stroke-linecap="round"/>
<path d="M911.25,1042.75 C917.71,1042.67 940.21,1042.50 950.00,1042.25 C959.79,1042.00 964.58,1041.75 970.00,1041.25 C975.42,1040.75 978.33,1040.17 982.50,1039.25 C986.67,1038.33 990.83,1037.29 995.00,1035.75 C999.17,1034.21 1003.33,1032.08 1007.50,1030.00 C1011.67,1027.92 1015.83,1025.54 1020.00,1023.25 C1024.17,1020.96 1028.33,1018.54 1032.50,1016.25 C1036.67,1013.96 1041.25,1011.25 1045.00,1009.50 C1048.75,1007.75 1051.67,1006.50 1055.00,1005.75 C1058.33,1005.00 1061.67,1005.12 1065.00,1005.00 C1068.33,1004.88 1071.67,1004.88 1075.00,1005.00 C1078.33,1005.12 1081.67,1005.25 1085.00,1005.75 C1088.33,1006.25 1091.67,1007.29 1095.00,1008.00 C1098.33,1008.71 1101.67,1009.33 1105.00,1010.00 C1108.33,1010.67 1111.67,1011.29 1115.00,1012.00 C1118.33,1012.71 1121.67,1013.54 1125.00,1014.25 C1128.33,1014.96 1131.67,1015.58 1135.00,1016.25 C1138.33,1016.92 1141.67,1017.54 1145.00,1018.25 C1148.33,1018.96 1151.67,1019.79 1155.00,1020.50 C1158.33,1021.21 1161.67,1021.83 1165.00,1022.50 C1168.33,1023.17 1171.67,1023.88 1175.00,1024.50 C1178.33,1025.12 1181.67,1025.79 1185.00,1026.25 C1188.33,1026.71 1191.67,1026.83 1195.00,1027.25 C1198.33,1027.67 1201.67,1028.08 1205.00,1028.75 C1208.33,1029.42 1211.67,1030.50 1215.00,1031.25 C1218.33,1032.00 1221.67,1032.62 1225.00,1033.25 C1228.33,1033.88 1231.67,1034.50 1235.00,1035.00 C1238.33,1035.50 1241.67,1035.92 1245.00,1036.25 C1248.33,1036.58 1251.62,1036.80 1255.00,1037.00 C1258.38,1037.20 1263.54,1037.38 1265.25,1037.46 L1265.25,1042.75 L911.25,1042.75 Z" fill="rgba(250,9,9,0.85)" stroke="rgb(250,9,9)" stroke-width="4.5" stroke-linejoin="round"/>
<path d="M911.25,1042.75 C917.71,1042.67 940.21,1042.50 950.00,1042.25 C959.79,1042.00 964.58,1041.75 970.00,1041.25 C975.42,1040.75 978.33,1040.17 982.50,1039.25 C986.67,1038.33 990.83,1037.29 995.00,1035.75 C999.17,1034.21 1003.33,1032.08 1007.50,1030.00 C1011.67,1027.92 1015.83,1025.54 1020.00,1023.25 C1024.17,1020.96 1028.33,1018.54 1032.50,1016.25 C1036.67,1013.96 1041.25,1011.25 1045.00,1009.50 C1048.75,1007.75 1051.67,1006.50 1055.00,1005.75 C1058.33,1005.00 1061.67,1005.12 1065.00,1005.00 C1068.33,1004.88 1071.67,1004.88 1075.00,1005.00 C1078.33,1005.12 1081.67,1005.25 1085.00,1005.75 C1088.33,1006.25 1091.67,1007.29 1095.00,1008.00 C1098.33,1008.71 1101.67,1009.33 1105.00,1010.00 C1108.33,1010.67 1111.67,1011.29 1115.00,1012.00 C1118.33,1012.71 1121.67,1013.54 1125.00,1014.25 C1128.33,1014.96 1131.67,1015.58 1135.00,1016.25 C1138.33,1016.92 1141.67,1017.54 1145.00,1018.25 C1148.33,1018.96 1151.67,1019.79 1155.00,1020.50 C1158.33,1021.21 1161.67,1021.83 1165.00,1022.50 C1168.33,1023.17 1171.67,1023.88 1175.00,1024.50 C1178.33,1025.12 1181.67,1025.79 1185.00,1026.25 C1188.33,1026.71 1191.67,1026.83 1195.00,1027.25 C1198.33,1027.67 1201.67,1028.08 1205.00,1028.75 C1208.33,1029.42 1211.67,1030.50 1215.00,1031.25 C1218.33,1032.00 1221.67,1032.62 1225.00,1033.25 C1228.33,1033.88 1231.67,1034.50 1235.00,1035.00 C1238.33,1035.50 1241.67,1035.92 1245.00,1036.25 C1248.33,1036.58 1251.46,1036.79 1255.00,1037.00 C1258.54,1037.21 1260.83,1037.08 1266.25,1037.50 C1271.67,1037.92 1279.79,1038.92 1287.50,1039.50 C1295.21,1040.08 1304.17,1040.58 1312.50,1041.00 C1320.83,1041.42 1327.08,1041.75 1337.50,1042.00 C1347.92,1042.25 1355.33,1042.38 1375.00,1042.50 C1394.67,1042.62 1442.08,1042.71 1455.50,1042.75" fill="none" stroke="#7f7f7f" stroke-width="2.5" stroke-linecap="round"/>
<polygon points="1266.25,1043.69 1259.35,1057.29 1273.15,1057.29" fill="#2d2d2d" stroke="#3a1010" stroke-width="0.5"/>
<text x="885.00" y="1021.05" font-size="20.3" text-anchor="end" font-weight="normal" fill="#111" textLength="39.1" lengthAdjust="spacingAndGlyphs" stroke="#111" stroke-width="0.3">Padj</text>
<text x="885.00" y="1042.65" font-size="20.3" text-anchor="end" font-weight="normal" fill="#111" textLength="167.6" lengthAdjust="spacingAndGlyphs" stroke="#111" stroke-width="0.3">Defensive Actions</text>
<text x="1539.50" y="1017.57" font-size="19.2" text-anchor="middle" font-weight="normal" fill="#111" textLength="37.4" lengthAdjust="spacingAndGlyphs" >8.67</text>
<text x="1531.30" y="1039.32" font-size="19.2" text-anchor="end" font-weight="normal" fill="#111" textLength="32.5" lengthAdjust="spacingAndGlyphs" >per:</text>
<text x="1540.50" y="1039.32" font-size="19.2" text-anchor="start" font-weight="normal" fill="rgb(251,13,15)" textLength="38.5" lengthAdjust="spacingAndGlyphs" >96.6</text>
<line x1="960.00" y1="1086.78" x2="960.00" y2="1140.38" stroke="#cbcbcb" stroke-width="1.4"/>
<text x="960.00" y="1155.98" font-size="12.8" text-anchor="middle" font-weight="normal" fill="#111" textLength="20.6" lengthAdjust="spacingAndGlyphs" stroke="#111" stroke-width="0.12">0.0</text>
<line x1="1055.50" y1="1086.78" x2="1055.50" y2="1140.38" stroke="#cbcbcb" stroke-width="1.4"/>
<text x="1055.50" y="1155.98" font-size="12.8" text-anchor="middle" font-weight="normal" fill="#111" textLength="20.6" lengthAdjust="spacingAndGlyphs" stroke="#111" stroke-width="0.12">0.2</text>
<line x1="1150.75" y1="1086.78" x2="1150.75" y2="1140.38" stroke="#cbcbcb" stroke-width="1.4"/>
<text x="1150.75" y="1155.98" font-size="12.8" text-anchor="middle" font-weight="normal" fill="#111" textLength="20.6" lengthAdjust="spacingAndGlyphs" stroke="#111" stroke-width="0.12">0.4</text>
<line x1="1246.25" y1="1086.78" x2="1246.25" y2="1140.38" stroke="#cbcbcb" stroke-width="1.4"/>
<text x="1246.25" y="1155.98" font-size="12.8" text-anchor="middle" font-weight="normal" fill="#111" textLength="20.6" lengthAdjust="spacingAndGlyphs" stroke="#111" stroke-width="0.12">0.6</text>
<line x1="1341.75" y1="1086.78" x2="1341.75" y2="1140.38" stroke="#cbcbcb" stroke-width="1.4"/>
<text x="1341.75" y="1155.98" font-size="12.8" text-anchor="middle" font-weight="normal" fill="#111" textLength="20.6" lengthAdjust="spacingAndGlyphs" stroke="#111" stroke-width="0.12">0.8</text>
<line x1="1437.25" y1="1086.78" x2="1437.25" y2="1140.38" stroke="#cbcbcb" stroke-width="1.4"/>
<text x="1437.25" y="1155.98" font-size="12.8" text-anchor="middle" font-weight="normal" fill="#111" textLength="20.6" lengthAdjust="spacingAndGlyphs" stroke="#111" stroke-width="0.12">1.0</text>
<defs><clipPath id="cl12"><rect x="905.25" y="1076.78" width="240.75" height="80"/></clipPath><clipPath id="cr12"><rect x="1146.00" y="1076.78" width="315.50" height="80"/></clipPath></defs>
<path d="M1146.00,1114.50 C1146.67,1114.67 1147.25,1114.83 1150.00,1115.50 C1152.75,1116.17 1158.33,1117.58 1162.50,1118.50 C1166.67,1119.42 1170.83,1120.25 1175.00,1121.00 C1179.17,1121.75 1183.33,1122.42 1187.50,1123.00 C1191.67,1123.58 1195.83,1124.08 1200.00,1124.50 C1204.17,1124.92 1208.33,1125.17 1212.50,1125.50 C1216.67,1125.83 1218.75,1126.17 1225.00,1126.50 C1231.25,1126.83 1241.67,1127.21 1250.00,1127.50 C1258.33,1127.79 1266.67,1128.08 1275.00,1128.25 C1283.33,1128.42 1269.92,1128.42 1300.00,1128.50 C1330.08,1128.58 1429.58,1128.71 1455.50,1128.75 L1455.50,1128.75 L1146.00,1128.75 Z" fill="rgba(128,128,128,0.25)"/>
<path d="M1147.00,1128.75 L1455.50,1128.75" fill="none" stroke="#808080" stroke-width="2.3" stroke-linecap="round"/>
<path d="M911.25,1128.75 C914.38,1128.62 924.79,1128.42 930.00,1128.00 C935.21,1127.58 938.75,1127.00 942.50,1126.25 C946.25,1125.50 949.17,1124.58 952.50,1123.50 C955.83,1122.42 959.17,1121.29 962.50,1119.75 C965.83,1118.21 969.17,1116.21 972.50,1114.25 C975.83,1112.29 979.17,1110.17 982.50,1108.00 C985.83,1105.83 989.17,1103.33 992.50,1101.25 C995.83,1099.17 999.58,1097.08 1002.50,1095.50 C1005.42,1093.92 1007.50,1092.75 1010.00,1091.75 C1012.50,1090.75 1015.00,1090.00 1017.50,1089.50 C1020.00,1089.00 1021.67,1088.92 1025.00,1088.75 C1028.33,1088.58 1033.33,1088.50 1037.50,1088.50 C1041.67,1088.50 1046.25,1088.50 1050.00,1088.75 C1053.75,1089.00 1056.67,1089.50 1060.00,1090.00 C1063.33,1090.50 1066.67,1091.04 1070.00,1091.75 C1073.33,1092.46 1076.67,1093.33 1080.00,1094.25 C1083.33,1095.17 1086.67,1096.12 1090.00,1097.25 C1093.33,1098.38 1096.67,1099.75 1100.00,1101.00 C1103.33,1102.25 1106.67,1103.58 1110.00,1104.75 C1113.33,1105.92 1116.67,1107.00 1120.00,1108.00 C1123.33,1109.00 1126.67,1109.92 1130.00,1110.75 C1133.33,1111.58 1137.33,1112.38 1140.00,1113.00 C1142.67,1113.62 1145.00,1114.25 1146.00,1114.50 L1146.00,1128.75 L911.25,1128.75 Z" fill="rgba(250,29,29,0.85)" stroke="rgb(250,29,29)" stroke-width="4.5" stroke-linejoin="round"/>
<path d="M911.25,1128.75 C914.38,1128.62 924.79,1128.42 930.00,1128.00 C935.21,1127.58 938.75,1127.00 942.50,1126.25 C946.25,1125.50 949.17,1124.58 952.50,1123.50 C955.83,1122.42 959.17,1121.29 962.50,1119.75 C965.83,1118.21 969.17,1116.21 972.50,1114.25 C975.83,1112.29 979.17,1110.17 982.50,1108.00 C985.83,1105.83 989.17,1103.33 992.50,1101.25 C995.83,1099.17 999.58,1097.08 1002.50,1095.50 C1005.42,1093.92 1007.50,1092.75 1010.00,1091.75 C1012.50,1090.75 1015.00,1090.00 1017.50,1089.50 C1020.00,1089.00 1021.67,1088.92 1025.00,1088.75 C1028.33,1088.58 1033.33,1088.50 1037.50,1088.50 C1041.67,1088.50 1046.25,1088.50 1050.00,1088.75 C1053.75,1089.00 1056.67,1089.50 1060.00,1090.00 C1063.33,1090.50 1066.67,1091.04 1070.00,1091.75 C1073.33,1092.46 1076.67,1093.33 1080.00,1094.25 C1083.33,1095.17 1086.67,1096.12 1090.00,1097.25 C1093.33,1098.38 1096.67,1099.75 1100.00,1101.00 C1103.33,1102.25 1106.67,1103.58 1110.00,1104.75 C1113.33,1105.92 1116.67,1107.00 1120.00,1108.00 C1123.33,1109.00 1126.67,1109.92 1130.00,1110.75 C1133.33,1111.58 1136.67,1112.21 1140.00,1113.00 C1143.33,1113.79 1146.25,1114.58 1150.00,1115.50 C1153.75,1116.42 1158.33,1117.58 1162.50,1118.50 C1166.67,1119.42 1170.83,1120.25 1175.00,1121.00 C1179.17,1121.75 1183.33,1122.42 1187.50,1123.00 C1191.67,1123.58 1195.83,1124.08 1200.00,1124.50 C1204.17,1124.92 1208.33,1125.17 1212.50,1125.50 C1216.67,1125.83 1218.75,1126.17 1225.00,1126.50 C1231.25,1126.83 1241.67,1127.21 1250.00,1127.50 C1258.33,1127.79 1266.67,1128.08 1275.00,1128.25 C1283.33,1128.42 1269.92,1128.42 1300.00,1128.50 C1330.08,1128.58 1429.58,1128.71 1455.50,1128.75" fill="none" stroke="#7f7f7f" stroke-width="2.5" stroke-linecap="round"/>
<polygon points="1147.00,1126.78 1140.10,1140.38 1153.90,1140.38" fill="#2d2d2d" stroke="#3a1010" stroke-width="0.5"/>
<text x="885.00" y="1103.80" font-size="20.3" text-anchor="end" font-weight="normal" fill="#111" textLength="147.3" lengthAdjust="spacingAndGlyphs" stroke="#111" stroke-width="0.3">Goal Probability</text>
<text x="885.00" y="1125.40" font-size="20.3" text-anchor="end" font-weight="normal" fill="#111" textLength="58.2" lengthAdjust="spacingAndGlyphs" stroke="#111" stroke-width="0.3">Added</text>
<text x="1539.50" y="1100.19" font-size="19.2" text-anchor="middle" font-weight="normal" fill="#111" textLength="37.4" lengthAdjust="spacingAndGlyphs" >0.39</text>
<text x="1531.30" y="1121.94" font-size="19.2" text-anchor="end" font-weight="normal" fill="#111" textLength="32.5" lengthAdjust="spacingAndGlyphs" >per:</text>
<text x="1540.50" y="1121.94" font-size="19.2" text-anchor="start" font-weight="normal" fill="rgb(241,23,24)" textLength="38.5" lengthAdjust="spacingAndGlyphs" >88.7</text>
</svg>
</body></html>
